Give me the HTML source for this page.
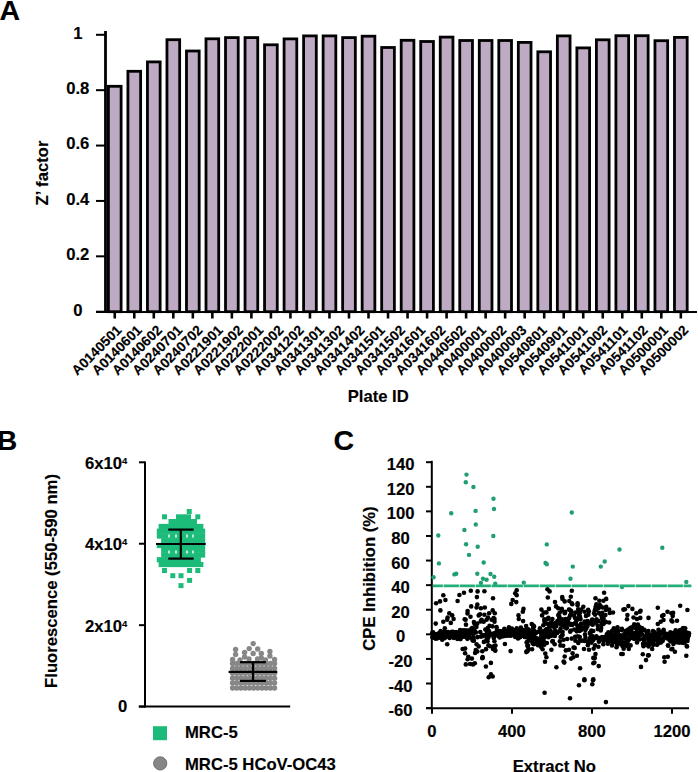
<!DOCTYPE html>
<html><head><meta charset="utf-8"><style>
html,body{margin:0;padding:0;background:#fff;width:698px;height:772px;overflow:hidden}
svg{display:block}
text{font-family:"Liberation Sans",sans-serif;font-weight:bold;stroke:#000;stroke-width:0.15px}
</style></head><body>
<svg width="698" height="772" viewBox="0 0 698 772">
<text x="-0.5" y="19.8" font-size="28.5" font-family="Liberation Sans, sans-serif" font-weight="bold">A</text>
<line x1="105.5" y1="31" x2="105.5" y2="312.9" stroke="#000" stroke-width="2.8"/>
<line x1="96" y1="311.70" x2="105.5" y2="311.70" stroke="#000" stroke-width="2"/>
<text x="77.8" y="315.60" font-size="16.67" text-anchor="middle" font-family="Liberation Sans, sans-serif" font-weight="bold">0</text>
<line x1="96" y1="256.32" x2="105.5" y2="256.32" stroke="#000" stroke-width="2"/>
<text x="77.8" y="260.22" font-size="16.67" text-anchor="middle" font-family="Liberation Sans, sans-serif" font-weight="bold">0.2</text>
<line x1="96" y1="200.94" x2="105.5" y2="200.94" stroke="#000" stroke-width="2"/>
<text x="77.8" y="204.84" font-size="16.67" text-anchor="middle" font-family="Liberation Sans, sans-serif" font-weight="bold">0.4</text>
<line x1="96" y1="145.56" x2="105.5" y2="145.56" stroke="#000" stroke-width="2"/>
<text x="77.8" y="149.46" font-size="16.67" text-anchor="middle" font-family="Liberation Sans, sans-serif" font-weight="bold">0.6</text>
<line x1="96" y1="90.18" x2="105.5" y2="90.18" stroke="#000" stroke-width="2"/>
<text x="77.8" y="94.08" font-size="16.67" text-anchor="middle" font-family="Liberation Sans, sans-serif" font-weight="bold">0.8</text>
<line x1="96" y1="34.80" x2="105.5" y2="34.80" stroke="#000" stroke-width="2"/>
<text x="77.8" y="38.70" font-size="16.67" text-anchor="middle" font-family="Liberation Sans, sans-serif" font-weight="bold">1</text>
<rect x="108.40" y="86.30" width="12.70" height="225.40" fill="#bfaac3" stroke="#000" stroke-width="2.8"/>
<rect x="127.92" y="71.30" width="12.70" height="240.40" fill="#bfaac3" stroke="#000" stroke-width="2.8"/>
<rect x="147.44" y="61.90" width="12.70" height="249.80" fill="#bfaac3" stroke="#000" stroke-width="2.8"/>
<rect x="166.96" y="39.70" width="12.70" height="272.00" fill="#bfaac3" stroke="#000" stroke-width="2.8"/>
<rect x="186.48" y="51.00" width="12.70" height="260.70" fill="#bfaac3" stroke="#000" stroke-width="2.8"/>
<rect x="206.00" y="38.80" width="12.70" height="272.90" fill="#bfaac3" stroke="#000" stroke-width="2.8"/>
<rect x="225.52" y="37.60" width="12.70" height="274.10" fill="#bfaac3" stroke="#000" stroke-width="2.8"/>
<rect x="245.04" y="37.60" width="12.70" height="274.10" fill="#bfaac3" stroke="#000" stroke-width="2.8"/>
<rect x="264.56" y="44.80" width="12.70" height="266.90" fill="#bfaac3" stroke="#000" stroke-width="2.8"/>
<rect x="284.08" y="38.90" width="12.70" height="272.80" fill="#bfaac3" stroke="#000" stroke-width="2.8"/>
<rect x="303.60" y="35.90" width="12.70" height="275.80" fill="#bfaac3" stroke="#000" stroke-width="2.8"/>
<rect x="323.12" y="35.90" width="12.70" height="275.80" fill="#bfaac3" stroke="#000" stroke-width="2.8"/>
<rect x="342.64" y="37.60" width="12.70" height="274.10" fill="#bfaac3" stroke="#000" stroke-width="2.8"/>
<rect x="362.16" y="36.20" width="12.70" height="275.50" fill="#bfaac3" stroke="#000" stroke-width="2.8"/>
<rect x="381.68" y="47.50" width="12.70" height="264.20" fill="#bfaac3" stroke="#000" stroke-width="2.8"/>
<rect x="401.20" y="40.30" width="12.70" height="271.40" fill="#bfaac3" stroke="#000" stroke-width="2.8"/>
<rect x="420.72" y="41.50" width="12.70" height="270.20" fill="#bfaac3" stroke="#000" stroke-width="2.8"/>
<rect x="440.24" y="37.10" width="12.70" height="274.60" fill="#bfaac3" stroke="#000" stroke-width="2.8"/>
<rect x="459.76" y="40.50" width="12.70" height="271.20" fill="#bfaac3" stroke="#000" stroke-width="2.8"/>
<rect x="479.28" y="40.50" width="12.70" height="271.20" fill="#bfaac3" stroke="#000" stroke-width="2.8"/>
<rect x="498.80" y="40.50" width="12.70" height="271.20" fill="#bfaac3" stroke="#000" stroke-width="2.8"/>
<rect x="518.32" y="42.40" width="12.70" height="269.30" fill="#bfaac3" stroke="#000" stroke-width="2.8"/>
<rect x="537.84" y="51.80" width="12.70" height="259.90" fill="#bfaac3" stroke="#000" stroke-width="2.8"/>
<rect x="557.36" y="35.90" width="12.70" height="275.80" fill="#bfaac3" stroke="#000" stroke-width="2.8"/>
<rect x="576.88" y="47.90" width="12.70" height="263.80" fill="#bfaac3" stroke="#000" stroke-width="2.8"/>
<rect x="596.40" y="39.80" width="12.70" height="271.90" fill="#bfaac3" stroke="#000" stroke-width="2.8"/>
<rect x="615.92" y="35.70" width="12.70" height="276.00" fill="#bfaac3" stroke="#000" stroke-width="2.8"/>
<rect x="635.44" y="35.70" width="12.70" height="276.00" fill="#bfaac3" stroke="#000" stroke-width="2.8"/>
<rect x="654.96" y="40.70" width="12.70" height="271.00" fill="#bfaac3" stroke="#000" stroke-width="2.8"/>
<rect x="674.48" y="37.40" width="12.70" height="274.30" fill="#bfaac3" stroke="#000" stroke-width="2.8"/>
<line x1="96" y1="311.9" x2="697" y2="311.9" stroke="#000" stroke-width="2"/>
<line x1="114.75" y1="311.7" x2="114.75" y2="318.5" stroke="#000" stroke-width="2.6"/>
<line x1="134.27" y1="311.7" x2="134.27" y2="318.5" stroke="#000" stroke-width="2.6"/>
<line x1="153.79" y1="311.7" x2="153.79" y2="318.5" stroke="#000" stroke-width="2.6"/>
<line x1="173.31" y1="311.7" x2="173.31" y2="318.5" stroke="#000" stroke-width="2.6"/>
<line x1="192.83" y1="311.7" x2="192.83" y2="318.5" stroke="#000" stroke-width="2.6"/>
<line x1="212.35" y1="311.7" x2="212.35" y2="318.5" stroke="#000" stroke-width="2.6"/>
<line x1="231.87" y1="311.7" x2="231.87" y2="318.5" stroke="#000" stroke-width="2.6"/>
<line x1="251.39" y1="311.7" x2="251.39" y2="318.5" stroke="#000" stroke-width="2.6"/>
<line x1="270.91" y1="311.7" x2="270.91" y2="318.5" stroke="#000" stroke-width="2.6"/>
<line x1="290.43" y1="311.7" x2="290.43" y2="318.5" stroke="#000" stroke-width="2.6"/>
<line x1="309.95" y1="311.7" x2="309.95" y2="318.5" stroke="#000" stroke-width="2.6"/>
<line x1="329.47" y1="311.7" x2="329.47" y2="318.5" stroke="#000" stroke-width="2.6"/>
<line x1="348.99" y1="311.7" x2="348.99" y2="318.5" stroke="#000" stroke-width="2.6"/>
<line x1="368.51" y1="311.7" x2="368.51" y2="318.5" stroke="#000" stroke-width="2.6"/>
<line x1="388.03" y1="311.7" x2="388.03" y2="318.5" stroke="#000" stroke-width="2.6"/>
<line x1="407.55" y1="311.7" x2="407.55" y2="318.5" stroke="#000" stroke-width="2.6"/>
<line x1="427.07" y1="311.7" x2="427.07" y2="318.5" stroke="#000" stroke-width="2.6"/>
<line x1="446.59" y1="311.7" x2="446.59" y2="318.5" stroke="#000" stroke-width="2.6"/>
<line x1="466.11" y1="311.7" x2="466.11" y2="318.5" stroke="#000" stroke-width="2.6"/>
<line x1="485.63" y1="311.7" x2="485.63" y2="318.5" stroke="#000" stroke-width="2.6"/>
<line x1="505.15" y1="311.7" x2="505.15" y2="318.5" stroke="#000" stroke-width="2.6"/>
<line x1="524.67" y1="311.7" x2="524.67" y2="318.5" stroke="#000" stroke-width="2.6"/>
<line x1="544.19" y1="311.7" x2="544.19" y2="318.5" stroke="#000" stroke-width="2.6"/>
<line x1="563.71" y1="311.7" x2="563.71" y2="318.5" stroke="#000" stroke-width="2.6"/>
<line x1="583.23" y1="311.7" x2="583.23" y2="318.5" stroke="#000" stroke-width="2.6"/>
<line x1="602.75" y1="311.7" x2="602.75" y2="318.5" stroke="#000" stroke-width="2.6"/>
<line x1="622.27" y1="311.7" x2="622.27" y2="318.5" stroke="#000" stroke-width="2.6"/>
<line x1="641.79" y1="311.7" x2="641.79" y2="318.5" stroke="#000" stroke-width="2.6"/>
<line x1="661.31" y1="311.7" x2="661.31" y2="318.5" stroke="#000" stroke-width="2.6"/>
<line x1="680.83" y1="311.7" x2="680.83" y2="318.5" stroke="#000" stroke-width="2.6"/>
<text x="122.40" y="331.00" font-size="13.8" text-anchor="end" transform="rotate(-45 122.40 331.00)" font-family="Liberation Sans, sans-serif" font-weight="bold">A0140501</text>
<text x="142.65" y="331.00" font-size="13.8" text-anchor="end" transform="rotate(-45 142.65 331.00)" font-family="Liberation Sans, sans-serif" font-weight="bold">A0140601</text>
<text x="162.89" y="331.00" font-size="13.8" text-anchor="end" transform="rotate(-45 162.89 331.00)" font-family="Liberation Sans, sans-serif" font-weight="bold">A0140602</text>
<text x="183.14" y="331.00" font-size="13.8" text-anchor="end" transform="rotate(-45 183.14 331.00)" font-family="Liberation Sans, sans-serif" font-weight="bold">A0240701</text>
<text x="203.39" y="331.00" font-size="13.8" text-anchor="end" transform="rotate(-45 203.39 331.00)" font-family="Liberation Sans, sans-serif" font-weight="bold">A0240702</text>
<text x="223.63" y="331.00" font-size="13.8" text-anchor="end" transform="rotate(-45 223.63 331.00)" font-family="Liberation Sans, sans-serif" font-weight="bold">A0221901</text>
<text x="243.88" y="331.00" font-size="13.8" text-anchor="end" transform="rotate(-45 243.88 331.00)" font-family="Liberation Sans, sans-serif" font-weight="bold">A0221902</text>
<text x="264.12" y="331.00" font-size="13.8" text-anchor="end" transform="rotate(-45 264.12 331.00)" font-family="Liberation Sans, sans-serif" font-weight="bold">A0222001</text>
<text x="284.37" y="331.00" font-size="13.8" text-anchor="end" transform="rotate(-45 284.37 331.00)" font-family="Liberation Sans, sans-serif" font-weight="bold">A0222002</text>
<text x="304.62" y="331.00" font-size="13.8" text-anchor="end" transform="rotate(-45 304.62 331.00)" font-family="Liberation Sans, sans-serif" font-weight="bold">A0341202</text>
<text x="324.86" y="331.00" font-size="13.8" text-anchor="end" transform="rotate(-45 324.86 331.00)" font-family="Liberation Sans, sans-serif" font-weight="bold">A0341301</text>
<text x="345.11" y="331.00" font-size="13.8" text-anchor="end" transform="rotate(-45 345.11 331.00)" font-family="Liberation Sans, sans-serif" font-weight="bold">A0341302</text>
<text x="365.36" y="331.00" font-size="13.8" text-anchor="end" transform="rotate(-45 365.36 331.00)" font-family="Liberation Sans, sans-serif" font-weight="bold">A0341402</text>
<text x="385.60" y="331.00" font-size="13.8" text-anchor="end" transform="rotate(-45 385.60 331.00)" font-family="Liberation Sans, sans-serif" font-weight="bold">A0341501</text>
<text x="405.85" y="331.00" font-size="13.8" text-anchor="end" transform="rotate(-45 405.85 331.00)" font-family="Liberation Sans, sans-serif" font-weight="bold">A0341502</text>
<text x="426.10" y="331.00" font-size="13.8" text-anchor="end" transform="rotate(-45 426.10 331.00)" font-family="Liberation Sans, sans-serif" font-weight="bold">A0341601</text>
<text x="446.34" y="331.00" font-size="13.8" text-anchor="end" transform="rotate(-45 446.34 331.00)" font-family="Liberation Sans, sans-serif" font-weight="bold">A0341602</text>
<text x="466.59" y="331.00" font-size="13.8" text-anchor="end" transform="rotate(-45 466.59 331.00)" font-family="Liberation Sans, sans-serif" font-weight="bold">A0440502</text>
<text x="486.84" y="331.00" font-size="13.8" text-anchor="end" transform="rotate(-45 486.84 331.00)" font-family="Liberation Sans, sans-serif" font-weight="bold">A0400001</text>
<text x="507.08" y="331.00" font-size="13.8" text-anchor="end" transform="rotate(-45 507.08 331.00)" font-family="Liberation Sans, sans-serif" font-weight="bold">A0400002</text>
<text x="527.33" y="331.00" font-size="13.8" text-anchor="end" transform="rotate(-45 527.33 331.00)" font-family="Liberation Sans, sans-serif" font-weight="bold">A0400003</text>
<text x="547.58" y="331.00" font-size="13.8" text-anchor="end" transform="rotate(-45 547.58 331.00)" font-family="Liberation Sans, sans-serif" font-weight="bold">A0540801</text>
<text x="567.82" y="331.00" font-size="13.8" text-anchor="end" transform="rotate(-45 567.82 331.00)" font-family="Liberation Sans, sans-serif" font-weight="bold">A0540901</text>
<text x="588.07" y="331.00" font-size="13.8" text-anchor="end" transform="rotate(-45 588.07 331.00)" font-family="Liberation Sans, sans-serif" font-weight="bold">A0541001</text>
<text x="608.31" y="331.00" font-size="13.8" text-anchor="end" transform="rotate(-45 608.31 331.00)" font-family="Liberation Sans, sans-serif" font-weight="bold">A0541002</text>
<text x="628.56" y="331.00" font-size="13.8" text-anchor="end" transform="rotate(-45 628.56 331.00)" font-family="Liberation Sans, sans-serif" font-weight="bold">A0541101</text>
<text x="648.81" y="331.00" font-size="13.8" text-anchor="end" transform="rotate(-45 648.81 331.00)" font-family="Liberation Sans, sans-serif" font-weight="bold">A0541102</text>
<text x="669.05" y="331.00" font-size="13.8" text-anchor="end" transform="rotate(-45 669.05 331.00)" font-family="Liberation Sans, sans-serif" font-weight="bold">A0500001</text>
<text x="689.30" y="331.00" font-size="13.8" text-anchor="end" transform="rotate(-45 689.30 331.00)" font-family="Liberation Sans, sans-serif" font-weight="bold">A0500002</text>
<text x="47.6" y="173" font-size="16.67" text-anchor="middle" transform="rotate(-90 47.6 173)" font-family="Liberation Sans, sans-serif" font-weight="bold">Z’ factor</text>
<text x="378.2" y="402" font-size="16.67" text-anchor="middle" font-family="Liberation Sans, sans-serif" font-weight="bold">Plate ID</text>
<text x="-3" y="449.5" font-size="28" font-family="Liberation Sans, sans-serif" font-weight="bold">B</text>
<line x1="145.0" y1="461.5" x2="145.0" y2="707.6" stroke="#000" stroke-width="2"/>
<line x1="139" y1="706.60" x2="145.0" y2="706.60" stroke="#000" stroke-width="2"/>
<text x="127.3" y="712.10" font-size="16.67" text-anchor="end" font-family="Liberation Sans, sans-serif" font-weight="bold">0</text>
<line x1="139" y1="625.17" x2="145.0" y2="625.17" stroke="#000" stroke-width="2"/>
<text x="127.3" y="631.67" font-size="16.67" text-anchor="end" font-family="Liberation Sans, sans-serif" font-weight="bold">2x10<tspan font-size="9.5" dy="-5">4</tspan></text>
<line x1="139" y1="543.73" x2="145.0" y2="543.73" stroke="#000" stroke-width="2"/>
<text x="127.3" y="550.23" font-size="16.67" text-anchor="end" font-family="Liberation Sans, sans-serif" font-weight="bold">4x10<tspan font-size="9.5" dy="-5">4</tspan></text>
<line x1="139" y1="462.30" x2="145.0" y2="462.30" stroke="#000" stroke-width="2"/>
<text x="127.3" y="468.80" font-size="16.67" text-anchor="end" font-family="Liberation Sans, sans-serif" font-weight="bold">6x10<tspan font-size="9.5" dy="-5">4</tspan></text>
<line x1="138.7" y1="706.6" x2="290.2" y2="706.6" stroke="#000" stroke-width="2"/>
<text x="57" y="581" font-size="16.67" text-anchor="middle" transform="rotate(-90 57 581)" font-family="Liberation Sans, sans-serif" font-weight="bold">Fluorescence (550-590 nm)</text>
<rect x="186.70" y="509.00" width="5" height="5" fill="#1dbb7a"/>
<rect x="162.00" y="514.30" width="5" height="5" fill="#1dbb7a"/>
<rect x="176.00" y="514.30" width="5" height="5" fill="#1dbb7a"/>
<rect x="181.00" y="514.30" width="5" height="5" fill="#1dbb7a"/>
<rect x="186.00" y="514.30" width="5" height="5" fill="#1dbb7a"/>
<rect x="195.30" y="514.30" width="5" height="5" fill="#1dbb7a"/>
<rect x="168.50" y="519.00" width="5" height="5" fill="#1dbb7a"/>
<rect x="173.00" y="519.00" width="5" height="5" fill="#1dbb7a"/>
<rect x="178.00" y="519.00" width="5" height="5" fill="#1dbb7a"/>
<rect x="183.00" y="519.00" width="5" height="5" fill="#1dbb7a"/>
<rect x="188.00" y="519.00" width="5" height="5" fill="#1dbb7a"/>
<rect x="192.00" y="519.00" width="5" height="5" fill="#1dbb7a"/>
<rect x="158.60" y="523.90" width="5.2" height="5.2" fill="#1dbb7a"/>
<rect x="162.56" y="523.90" width="5.2" height="5.2" fill="#1dbb7a"/>
<rect x="166.52" y="523.90" width="5.2" height="5.2" fill="#1dbb7a"/>
<rect x="170.48" y="523.90" width="5.2" height="5.2" fill="#1dbb7a"/>
<rect x="174.44" y="523.90" width="5.2" height="5.2" fill="#1dbb7a"/>
<rect x="178.40" y="523.90" width="5.2" height="5.2" fill="#1dbb7a"/>
<rect x="182.36" y="523.90" width="5.2" height="5.2" fill="#1dbb7a"/>
<rect x="186.32" y="523.90" width="5.2" height="5.2" fill="#1dbb7a"/>
<rect x="190.28" y="523.90" width="5.2" height="5.2" fill="#1dbb7a"/>
<rect x="194.24" y="523.90" width="5.2" height="5.2" fill="#1dbb7a"/>
<rect x="198.20" y="523.90" width="5.2" height="5.2" fill="#1dbb7a"/>
<rect x="156.80" y="528.65" width="5.2" height="5.2" fill="#1dbb7a"/>
<rect x="161.12" y="528.65" width="5.2" height="5.2" fill="#1dbb7a"/>
<rect x="165.44" y="528.65" width="5.2" height="5.2" fill="#1dbb7a"/>
<rect x="169.76" y="528.65" width="5.2" height="5.2" fill="#1dbb7a"/>
<rect x="174.08" y="528.65" width="5.2" height="5.2" fill="#1dbb7a"/>
<rect x="178.40" y="528.65" width="5.2" height="5.2" fill="#1dbb7a"/>
<rect x="182.72" y="528.65" width="5.2" height="5.2" fill="#1dbb7a"/>
<rect x="187.04" y="528.65" width="5.2" height="5.2" fill="#1dbb7a"/>
<rect x="191.36" y="528.65" width="5.2" height="5.2" fill="#1dbb7a"/>
<rect x="195.68" y="528.65" width="5.2" height="5.2" fill="#1dbb7a"/>
<rect x="200.00" y="528.65" width="5.2" height="5.2" fill="#1dbb7a"/>
<rect x="156.80" y="533.40" width="5.2" height="5.2" fill="#1dbb7a"/>
<rect x="161.12" y="533.40" width="5.2" height="5.2" fill="#1dbb7a"/>
<rect x="165.44" y="533.40" width="5.2" height="5.2" fill="#1dbb7a"/>
<rect x="169.76" y="533.40" width="5.2" height="5.2" fill="#1dbb7a"/>
<rect x="174.08" y="533.40" width="5.2" height="5.2" fill="#1dbb7a"/>
<rect x="178.40" y="533.40" width="5.2" height="5.2" fill="#1dbb7a"/>
<rect x="182.72" y="533.40" width="5.2" height="5.2" fill="#1dbb7a"/>
<rect x="187.04" y="533.40" width="5.2" height="5.2" fill="#1dbb7a"/>
<rect x="191.36" y="533.40" width="5.2" height="5.2" fill="#1dbb7a"/>
<rect x="195.68" y="533.40" width="5.2" height="5.2" fill="#1dbb7a"/>
<rect x="200.00" y="533.40" width="5.2" height="5.2" fill="#1dbb7a"/>
<rect x="161.12" y="538.15" width="5.2" height="5.2" fill="#1dbb7a"/>
<rect x="165.44" y="538.15" width="5.2" height="5.2" fill="#1dbb7a"/>
<rect x="169.76" y="538.15" width="5.2" height="5.2" fill="#1dbb7a"/>
<rect x="174.08" y="538.15" width="5.2" height="5.2" fill="#1dbb7a"/>
<rect x="178.40" y="538.15" width="5.2" height="5.2" fill="#1dbb7a"/>
<rect x="182.72" y="538.15" width="5.2" height="5.2" fill="#1dbb7a"/>
<rect x="187.04" y="538.15" width="5.2" height="5.2" fill="#1dbb7a"/>
<rect x="191.36" y="538.15" width="5.2" height="5.2" fill="#1dbb7a"/>
<rect x="195.68" y="538.15" width="5.2" height="5.2" fill="#1dbb7a"/>
<rect x="200.00" y="538.15" width="5.2" height="5.2" fill="#1dbb7a"/>
<rect x="156.80" y="542.90" width="5.2" height="5.2" fill="#1dbb7a"/>
<rect x="161.12" y="542.90" width="5.2" height="5.2" fill="#1dbb7a"/>
<rect x="165.44" y="542.90" width="5.2" height="5.2" fill="#1dbb7a"/>
<rect x="169.76" y="542.90" width="5.2" height="5.2" fill="#1dbb7a"/>
<rect x="174.08" y="542.90" width="5.2" height="5.2" fill="#1dbb7a"/>
<rect x="178.40" y="542.90" width="5.2" height="5.2" fill="#1dbb7a"/>
<rect x="182.72" y="542.90" width="5.2" height="5.2" fill="#1dbb7a"/>
<rect x="187.04" y="542.90" width="5.2" height="5.2" fill="#1dbb7a"/>
<rect x="191.36" y="542.90" width="5.2" height="5.2" fill="#1dbb7a"/>
<rect x="195.68" y="542.90" width="5.2" height="5.2" fill="#1dbb7a"/>
<rect x="200.00" y="542.90" width="5.2" height="5.2" fill="#1dbb7a"/>
<rect x="161.12" y="547.65" width="5.2" height="5.2" fill="#1dbb7a"/>
<rect x="165.44" y="547.65" width="5.2" height="5.2" fill="#1dbb7a"/>
<rect x="169.76" y="547.65" width="5.2" height="5.2" fill="#1dbb7a"/>
<rect x="174.08" y="547.65" width="5.2" height="5.2" fill="#1dbb7a"/>
<rect x="178.40" y="547.65" width="5.2" height="5.2" fill="#1dbb7a"/>
<rect x="182.72" y="547.65" width="5.2" height="5.2" fill="#1dbb7a"/>
<rect x="187.04" y="547.65" width="5.2" height="5.2" fill="#1dbb7a"/>
<rect x="191.36" y="547.65" width="5.2" height="5.2" fill="#1dbb7a"/>
<rect x="195.68" y="547.65" width="5.2" height="5.2" fill="#1dbb7a"/>
<rect x="200.00" y="547.65" width="5.2" height="5.2" fill="#1dbb7a"/>
<rect x="161.12" y="552.40" width="5.2" height="5.2" fill="#1dbb7a"/>
<rect x="165.44" y="552.40" width="5.2" height="5.2" fill="#1dbb7a"/>
<rect x="169.76" y="552.40" width="5.2" height="5.2" fill="#1dbb7a"/>
<rect x="174.08" y="552.40" width="5.2" height="5.2" fill="#1dbb7a"/>
<rect x="178.40" y="552.40" width="5.2" height="5.2" fill="#1dbb7a"/>
<rect x="182.72" y="552.40" width="5.2" height="5.2" fill="#1dbb7a"/>
<rect x="187.04" y="552.40" width="5.2" height="5.2" fill="#1dbb7a"/>
<rect x="191.36" y="552.40" width="5.2" height="5.2" fill="#1dbb7a"/>
<rect x="195.68" y="552.40" width="5.2" height="5.2" fill="#1dbb7a"/>
<rect x="200.00" y="552.40" width="5.2" height="5.2" fill="#1dbb7a"/>
<rect x="156.80" y="557.15" width="5.2" height="5.2" fill="#1dbb7a"/>
<rect x="161.12" y="557.15" width="5.2" height="5.2" fill="#1dbb7a"/>
<rect x="165.44" y="557.15" width="5.2" height="5.2" fill="#1dbb7a"/>
<rect x="169.76" y="557.15" width="5.2" height="5.2" fill="#1dbb7a"/>
<rect x="174.08" y="557.15" width="5.2" height="5.2" fill="#1dbb7a"/>
<rect x="178.40" y="557.15" width="5.2" height="5.2" fill="#1dbb7a"/>
<rect x="182.72" y="557.15" width="5.2" height="5.2" fill="#1dbb7a"/>
<rect x="187.04" y="557.15" width="5.2" height="5.2" fill="#1dbb7a"/>
<rect x="191.36" y="557.15" width="5.2" height="5.2" fill="#1dbb7a"/>
<rect x="195.68" y="557.15" width="5.2" height="5.2" fill="#1dbb7a"/>
<rect x="158.60" y="561.90" width="5.2" height="5.2" fill="#1dbb7a"/>
<rect x="162.56" y="561.90" width="5.2" height="5.2" fill="#1dbb7a"/>
<rect x="166.52" y="561.90" width="5.2" height="5.2" fill="#1dbb7a"/>
<rect x="170.48" y="561.90" width="5.2" height="5.2" fill="#1dbb7a"/>
<rect x="174.44" y="561.90" width="5.2" height="5.2" fill="#1dbb7a"/>
<rect x="178.40" y="561.90" width="5.2" height="5.2" fill="#1dbb7a"/>
<rect x="182.36" y="561.90" width="5.2" height="5.2" fill="#1dbb7a"/>
<rect x="186.32" y="561.90" width="5.2" height="5.2" fill="#1dbb7a"/>
<rect x="190.28" y="561.90" width="5.2" height="5.2" fill="#1dbb7a"/>
<rect x="194.24" y="561.90" width="5.2" height="5.2" fill="#1dbb7a"/>
<rect x="198.20" y="561.90" width="5.2" height="5.2" fill="#1dbb7a"/>
<rect x="162.00" y="568.00" width="5" height="5" fill="#1dbb7a"/>
<rect x="187.10" y="568.00" width="5" height="5" fill="#1dbb7a"/>
<rect x="195.30" y="568.00" width="5" height="5" fill="#1dbb7a"/>
<rect x="170.30" y="573.20" width="5" height="5" fill="#1dbb7a"/>
<rect x="178.50" y="573.20" width="5" height="5" fill="#1dbb7a"/>
<rect x="187.10" y="577.90" width="5" height="5" fill="#1dbb7a"/>
<rect x="178.50" y="583.10" width="5" height="5" fill="#1dbb7a"/>
<rect x="168.2" y="534.5" width="1.6" height="3" fill="#e8f8f0"/>
<rect x="175.2" y="534.5" width="1.6" height="3" fill="#e8f8f0"/>
<rect x="186.2" y="534.5" width="1.6" height="3" fill="#e8f8f0"/>
<rect x="192.2" y="534.5" width="1.6" height="3" fill="#e8f8f0"/>
<rect x="168.2" y="550.5" width="1.6" height="3" fill="#e8f8f0"/>
<rect x="175.2" y="550.5" width="1.6" height="3" fill="#e8f8f0"/>
<rect x="186.2" y="550.5" width="1.6" height="3" fill="#e8f8f0"/>
<rect x="192.2" y="550.5" width="1.6" height="3" fill="#e8f8f0"/>
<circle cx="253.20" cy="643.60" r="2.7" fill="#878787"/>
<circle cx="249.20" cy="648.60" r="2.7" fill="#878787"/>
<circle cx="257.70" cy="649.00" r="2.7" fill="#878787"/>
<circle cx="235.60" cy="649.50" r="2.7" fill="#878787"/>
<circle cx="235.60" cy="654.50" r="2.7" fill="#878787"/>
<circle cx="244.60" cy="652.50" r="2.7" fill="#878787"/>
<circle cx="244.60" cy="657.00" r="2.7" fill="#878787"/>
<circle cx="253.20" cy="653.50" r="2.7" fill="#878787"/>
<circle cx="261.30" cy="653.50" r="2.7" fill="#878787"/>
<circle cx="261.30" cy="658.00" r="2.7" fill="#878787"/>
<circle cx="269.90" cy="651.50" r="2.7" fill="#878787"/>
<circle cx="269.90" cy="656.00" r="2.7" fill="#878787"/>
<circle cx="232.60" cy="659.50" r="2.7" fill="#878787"/>
<circle cx="274.50" cy="659.50" r="2.7" fill="#878787"/>
<circle cx="240.00" cy="660.00" r="2.7" fill="#878787"/>
<circle cx="249.00" cy="659.00" r="2.7" fill="#878787"/>
<circle cx="257.50" cy="659.00" r="2.7" fill="#878787"/>
<circle cx="265.50" cy="660.00" r="2.7" fill="#878787"/>
<circle cx="232.60" cy="663.50" r="2.75" fill="#878787"/>
<circle cx="236.79" cy="663.50" r="2.75" fill="#878787"/>
<circle cx="240.98" cy="663.50" r="2.75" fill="#878787"/>
<circle cx="245.17" cy="663.50" r="2.75" fill="#878787"/>
<circle cx="249.36" cy="663.50" r="2.75" fill="#878787"/>
<circle cx="253.55" cy="663.50" r="2.75" fill="#878787"/>
<circle cx="257.74" cy="663.50" r="2.75" fill="#878787"/>
<circle cx="261.93" cy="663.50" r="2.75" fill="#878787"/>
<circle cx="266.12" cy="663.50" r="2.75" fill="#878787"/>
<circle cx="270.31" cy="663.50" r="2.75" fill="#878787"/>
<circle cx="274.50" cy="663.50" r="2.75" fill="#878787"/>
<circle cx="232.60" cy="668.40" r="2.75" fill="#878787"/>
<circle cx="236.79" cy="668.40" r="2.75" fill="#878787"/>
<circle cx="240.98" cy="668.40" r="2.75" fill="#878787"/>
<circle cx="245.17" cy="668.40" r="2.75" fill="#878787"/>
<circle cx="249.36" cy="668.40" r="2.75" fill="#878787"/>
<circle cx="253.55" cy="668.40" r="2.75" fill="#878787"/>
<circle cx="257.74" cy="668.40" r="2.75" fill="#878787"/>
<circle cx="261.93" cy="668.40" r="2.75" fill="#878787"/>
<circle cx="266.12" cy="668.40" r="2.75" fill="#878787"/>
<circle cx="270.31" cy="668.40" r="2.75" fill="#878787"/>
<circle cx="274.50" cy="668.40" r="2.75" fill="#878787"/>
<circle cx="232.60" cy="673.30" r="2.75" fill="#878787"/>
<circle cx="236.79" cy="673.30" r="2.75" fill="#878787"/>
<circle cx="240.98" cy="673.30" r="2.75" fill="#878787"/>
<circle cx="245.17" cy="673.30" r="2.75" fill="#878787"/>
<circle cx="249.36" cy="673.30" r="2.75" fill="#878787"/>
<circle cx="253.55" cy="673.30" r="2.75" fill="#878787"/>
<circle cx="257.74" cy="673.30" r="2.75" fill="#878787"/>
<circle cx="261.93" cy="673.30" r="2.75" fill="#878787"/>
<circle cx="266.12" cy="673.30" r="2.75" fill="#878787"/>
<circle cx="270.31" cy="673.30" r="2.75" fill="#878787"/>
<circle cx="274.50" cy="673.30" r="2.75" fill="#878787"/>
<circle cx="232.60" cy="678.20" r="2.75" fill="#878787"/>
<circle cx="236.79" cy="678.20" r="2.75" fill="#878787"/>
<circle cx="240.98" cy="678.20" r="2.75" fill="#878787"/>
<circle cx="245.17" cy="678.20" r="2.75" fill="#878787"/>
<circle cx="249.36" cy="678.20" r="2.75" fill="#878787"/>
<circle cx="253.55" cy="678.20" r="2.75" fill="#878787"/>
<circle cx="257.74" cy="678.20" r="2.75" fill="#878787"/>
<circle cx="261.93" cy="678.20" r="2.75" fill="#878787"/>
<circle cx="266.12" cy="678.20" r="2.75" fill="#878787"/>
<circle cx="270.31" cy="678.20" r="2.75" fill="#878787"/>
<circle cx="274.50" cy="678.20" r="2.75" fill="#878787"/>
<circle cx="232.60" cy="683.10" r="2.75" fill="#878787"/>
<circle cx="236.79" cy="683.10" r="2.75" fill="#878787"/>
<circle cx="240.98" cy="683.10" r="2.75" fill="#878787"/>
<circle cx="245.17" cy="683.10" r="2.75" fill="#878787"/>
<circle cx="249.36" cy="683.10" r="2.75" fill="#878787"/>
<circle cx="253.55" cy="683.10" r="2.75" fill="#878787"/>
<circle cx="257.74" cy="683.10" r="2.75" fill="#878787"/>
<circle cx="261.93" cy="683.10" r="2.75" fill="#878787"/>
<circle cx="266.12" cy="683.10" r="2.75" fill="#878787"/>
<circle cx="270.31" cy="683.10" r="2.75" fill="#878787"/>
<circle cx="274.50" cy="683.10" r="2.75" fill="#878787"/>
<circle cx="232.60" cy="688.00" r="2.75" fill="#878787"/>
<circle cx="236.79" cy="688.00" r="2.75" fill="#878787"/>
<circle cx="240.98" cy="688.00" r="2.75" fill="#878787"/>
<circle cx="245.17" cy="688.00" r="2.75" fill="#878787"/>
<circle cx="249.36" cy="688.00" r="2.75" fill="#878787"/>
<circle cx="253.55" cy="688.00" r="2.75" fill="#878787"/>
<circle cx="257.74" cy="688.00" r="2.75" fill="#878787"/>
<circle cx="261.93" cy="688.00" r="2.75" fill="#878787"/>
<circle cx="266.12" cy="688.00" r="2.75" fill="#878787"/>
<circle cx="270.31" cy="688.00" r="2.75" fill="#878787"/>
<circle cx="274.50" cy="688.00" r="2.75" fill="#878787"/>
<line x1="156" y1="544" x2="205.7" y2="544" stroke="#000" stroke-width="2.2"/>
<line x1="180.8" y1="529.6" x2="180.8" y2="558.6" stroke="#000" stroke-width="2.2"/>
<line x1="168.3" y1="529.6" x2="193.6" y2="529.6" stroke="#000" stroke-width="2.2"/>
<line x1="168.3" y1="558.6" x2="193.6" y2="558.6" stroke="#000" stroke-width="2.2"/>
<line x1="228.6" y1="671.8" x2="277.3" y2="671.8" stroke="#000" stroke-width="2.2"/>
<line x1="253" y1="662.2" x2="253" y2="680.9" stroke="#000" stroke-width="2.4"/>
<line x1="240" y1="662.2" x2="265.9" y2="662.2" stroke="#000" stroke-width="2.2"/>
<line x1="240" y1="680.9" x2="265.9" y2="680.9" stroke="#000" stroke-width="2.2"/>
<rect x="153" y="726.2" width="14" height="14" fill="#1dbb7a"/>
<text x="185" y="738.2" font-size="16.67" font-family="Liberation Sans, sans-serif" font-weight="bold">MRC-5</text>
<circle cx="160.2" cy="763.4" r="6.6" fill="#868686" stroke="#6f6f6f" stroke-width="1"/>
<text x="185" y="770.2" font-size="16.67" font-family="Liberation Sans, sans-serif" font-weight="bold">MRC-5 HCoV-OC43</text>
<text x="333.5" y="449.6" font-size="28.5" font-family="Liberation Sans, sans-serif" font-weight="bold">C</text>
<line x1="431.8" y1="460.8" x2="431.8" y2="709.3" stroke="#000" stroke-width="2"/>
<line x1="426" y1="708.10" x2="431.8" y2="708.10" stroke="#000" stroke-width="2"/>
<text x="400.6" y="716.20" font-size="16.67" text-anchor="middle" font-family="Liberation Sans, sans-serif" font-weight="bold">-60</text>
<line x1="426" y1="683.51" x2="431.8" y2="683.51" stroke="#000" stroke-width="2"/>
<text x="400.6" y="691.61" font-size="16.67" text-anchor="middle" font-family="Liberation Sans, sans-serif" font-weight="bold">-40</text>
<line x1="426" y1="658.92" x2="431.8" y2="658.92" stroke="#000" stroke-width="2"/>
<text x="400.6" y="667.02" font-size="16.67" text-anchor="middle" font-family="Liberation Sans, sans-serif" font-weight="bold">-20</text>
<line x1="426" y1="634.33" x2="431.8" y2="634.33" stroke="#000" stroke-width="2"/>
<text x="400.6" y="642.43" font-size="16.67" text-anchor="middle" font-family="Liberation Sans, sans-serif" font-weight="bold">0</text>
<line x1="426" y1="609.74" x2="431.8" y2="609.74" stroke="#000" stroke-width="2"/>
<text x="400.6" y="617.84" font-size="16.67" text-anchor="middle" font-family="Liberation Sans, sans-serif" font-weight="bold">20</text>
<line x1="426" y1="585.15" x2="431.8" y2="585.15" stroke="#000" stroke-width="2"/>
<text x="400.6" y="593.25" font-size="16.67" text-anchor="middle" font-family="Liberation Sans, sans-serif" font-weight="bold">40</text>
<line x1="426" y1="560.56" x2="431.8" y2="560.56" stroke="#000" stroke-width="2"/>
<text x="400.6" y="568.66" font-size="16.67" text-anchor="middle" font-family="Liberation Sans, sans-serif" font-weight="bold">60</text>
<line x1="426" y1="535.97" x2="431.8" y2="535.97" stroke="#000" stroke-width="2"/>
<text x="400.6" y="544.07" font-size="16.67" text-anchor="middle" font-family="Liberation Sans, sans-serif" font-weight="bold">80</text>
<line x1="426" y1="511.38" x2="431.8" y2="511.38" stroke="#000" stroke-width="2"/>
<text x="400.6" y="519.48" font-size="16.67" text-anchor="middle" font-family="Liberation Sans, sans-serif" font-weight="bold">100</text>
<line x1="426" y1="486.79" x2="431.8" y2="486.79" stroke="#000" stroke-width="2"/>
<text x="400.6" y="494.89" font-size="16.67" text-anchor="middle" font-family="Liberation Sans, sans-serif" font-weight="bold">120</text>
<line x1="426" y1="462.20" x2="431.8" y2="462.20" stroke="#000" stroke-width="2"/>
<text x="400.6" y="470.30" font-size="16.67" text-anchor="middle" font-family="Liberation Sans, sans-serif" font-weight="bold">140</text>
<line x1="426" y1="708.3" x2="689" y2="708.3" stroke="#000" stroke-width="2"/>
<line x1="432.00" y1="708.3" x2="432.00" y2="713.7" stroke="#000" stroke-width="2"/>
<text x="432.00" y="736.5" font-size="16.67" text-anchor="middle" font-family="Liberation Sans, sans-serif" font-weight="bold">0</text>
<line x1="512.00" y1="708.3" x2="512.00" y2="713.7" stroke="#000" stroke-width="2"/>
<text x="512.00" y="736.5" font-size="16.67" text-anchor="middle" font-family="Liberation Sans, sans-serif" font-weight="bold">400</text>
<line x1="592.00" y1="708.3" x2="592.00" y2="713.7" stroke="#000" stroke-width="2"/>
<text x="592.00" y="736.5" font-size="16.67" text-anchor="middle" font-family="Liberation Sans, sans-serif" font-weight="bold">800</text>
<line x1="672.00" y1="708.3" x2="672.00" y2="713.7" stroke="#000" stroke-width="2"/>
<text x="672.00" y="736.5" font-size="16.67" text-anchor="middle" font-family="Liberation Sans, sans-serif" font-weight="bold">1200</text>
<text x="375" y="578.5" font-size="16.67" text-anchor="middle" transform="rotate(-90 375 578.5)" font-family="Liberation Sans, sans-serif" font-weight="bold">CPE Inhibition (%)</text>
<text x="554.4" y="772" font-size="16.67" text-anchor="middle" font-family="Liberation Sans, sans-serif" font-weight="bold">Extract No</text>
<circle cx="449.86" cy="634.91" r="2.3" fill="#000"/>
<circle cx="465.72" cy="636.25" r="2.3" fill="#000"/>
<circle cx="447.58" cy="635.00" r="2.3" fill="#000"/>
<circle cx="441.32" cy="636.12" r="2.3" fill="#000"/>
<circle cx="462.88" cy="636.61" r="2.3" fill="#000"/>
<circle cx="459.65" cy="634.68" r="2.3" fill="#000"/>
<circle cx="468.60" cy="635.75" r="2.3" fill="#000"/>
<circle cx="451.74" cy="632.02" r="2.3" fill="#000"/>
<circle cx="459.79" cy="633.44" r="2.3" fill="#000"/>
<circle cx="460.60" cy="634.70" r="2.3" fill="#000"/>
<circle cx="449.80" cy="635.65" r="2.3" fill="#000"/>
<circle cx="437.64" cy="638.31" r="2.3" fill="#000"/>
<circle cx="440.08" cy="635.24" r="2.3" fill="#000"/>
<circle cx="445.28" cy="634.36" r="2.3" fill="#000"/>
<circle cx="447.83" cy="632.54" r="2.3" fill="#000"/>
<circle cx="460.99" cy="632.56" r="2.3" fill="#000"/>
<circle cx="446.83" cy="635.40" r="2.3" fill="#000"/>
<circle cx="448.22" cy="633.68" r="2.3" fill="#000"/>
<circle cx="444.03" cy="633.87" r="2.3" fill="#000"/>
<circle cx="440.71" cy="631.08" r="2.3" fill="#000"/>
<circle cx="433.54" cy="634.64" r="2.3" fill="#000"/>
<circle cx="464.89" cy="634.34" r="2.3" fill="#000"/>
<circle cx="464.07" cy="636.67" r="2.3" fill="#000"/>
<circle cx="462.57" cy="630.45" r="2.3" fill="#000"/>
<circle cx="448.00" cy="631.95" r="2.3" fill="#000"/>
<circle cx="455.05" cy="632.37" r="2.3" fill="#000"/>
<circle cx="440.76" cy="632.94" r="2.3" fill="#000"/>
<circle cx="439.72" cy="634.75" r="2.3" fill="#000"/>
<circle cx="450.75" cy="634.17" r="2.3" fill="#000"/>
<circle cx="446.72" cy="635.57" r="2.3" fill="#000"/>
<circle cx="444.82" cy="628.24" r="2.3" fill="#000"/>
<circle cx="449.67" cy="637.25" r="2.3" fill="#000"/>
<circle cx="438.45" cy="635.93" r="2.3" fill="#000"/>
<circle cx="444.61" cy="638.15" r="2.3" fill="#000"/>
<circle cx="439.86" cy="635.02" r="2.3" fill="#000"/>
<circle cx="464.06" cy="635.47" r="2.3" fill="#000"/>
<circle cx="432.16" cy="633.02" r="2.3" fill="#000"/>
<circle cx="445.31" cy="632.36" r="2.3" fill="#000"/>
<circle cx="435.09" cy="634.25" r="2.3" fill="#000"/>
<circle cx="449.52" cy="635.99" r="2.3" fill="#000"/>
<circle cx="442.02" cy="636.65" r="2.3" fill="#000"/>
<circle cx="468.94" cy="634.99" r="2.3" fill="#000"/>
<circle cx="439.64" cy="633.29" r="2.3" fill="#000"/>
<circle cx="437.16" cy="634.02" r="2.3" fill="#000"/>
<circle cx="457.14" cy="634.70" r="2.3" fill="#000"/>
<circle cx="440.31" cy="633.85" r="2.3" fill="#000"/>
<circle cx="439.43" cy="636.40" r="2.3" fill="#000"/>
<circle cx="440.48" cy="633.27" r="2.3" fill="#000"/>
<circle cx="445.48" cy="635.67" r="2.3" fill="#000"/>
<circle cx="454.00" cy="637.86" r="2.3" fill="#000"/>
<circle cx="467.42" cy="638.86" r="2.3" fill="#000"/>
<circle cx="459.38" cy="635.88" r="2.3" fill="#000"/>
<circle cx="456.07" cy="634.24" r="2.3" fill="#000"/>
<circle cx="436.77" cy="634.28" r="2.3" fill="#000"/>
<circle cx="463.52" cy="632.58" r="2.3" fill="#000"/>
<circle cx="435.34" cy="636.11" r="2.3" fill="#000"/>
<circle cx="451.16" cy="634.49" r="2.3" fill="#000"/>
<circle cx="459.81" cy="632.27" r="2.3" fill="#000"/>
<circle cx="438.16" cy="634.09" r="2.3" fill="#000"/>
<circle cx="467.86" cy="634.09" r="2.3" fill="#000"/>
<circle cx="453.34" cy="632.09" r="2.3" fill="#000"/>
<circle cx="454.62" cy="634.79" r="2.3" fill="#000"/>
<circle cx="453.28" cy="636.24" r="2.3" fill="#000"/>
<circle cx="436.67" cy="635.14" r="2.3" fill="#000"/>
<circle cx="433.10" cy="632.27" r="2.3" fill="#000"/>
<circle cx="455.75" cy="633.71" r="2.3" fill="#000"/>
<circle cx="455.55" cy="634.39" r="2.3" fill="#000"/>
<circle cx="439.22" cy="633.48" r="2.3" fill="#000"/>
<circle cx="439.07" cy="635.87" r="2.3" fill="#000"/>
<circle cx="456.10" cy="631.94" r="2.3" fill="#000"/>
<circle cx="463.72" cy="634.26" r="2.3" fill="#000"/>
<circle cx="454.28" cy="635.91" r="2.3" fill="#000"/>
<circle cx="449.05" cy="637.20" r="2.3" fill="#000"/>
<circle cx="465.53" cy="633.29" r="2.3" fill="#000"/>
<circle cx="438.09" cy="637.17" r="2.3" fill="#000"/>
<circle cx="445.55" cy="632.85" r="2.3" fill="#000"/>
<circle cx="458.09" cy="632.68" r="2.3" fill="#000"/>
<circle cx="461.37" cy="632.82" r="2.3" fill="#000"/>
<circle cx="460.58" cy="639.11" r="2.3" fill="#000"/>
<circle cx="440.14" cy="632.25" r="2.3" fill="#000"/>
<circle cx="449.66" cy="638.04" r="2.3" fill="#000"/>
<circle cx="448.40" cy="634.62" r="2.3" fill="#000"/>
<circle cx="432.40" cy="637.36" r="2.3" fill="#000"/>
<circle cx="467.65" cy="630.51" r="2.3" fill="#000"/>
<circle cx="441.72" cy="634.84" r="2.3" fill="#000"/>
<circle cx="468.83" cy="636.01" r="2.3" fill="#000"/>
<circle cx="463.41" cy="634.31" r="2.3" fill="#000"/>
<circle cx="465.55" cy="635.27" r="2.3" fill="#000"/>
<circle cx="438.65" cy="633.68" r="2.3" fill="#000"/>
<circle cx="466.82" cy="635.91" r="2.3" fill="#000"/>
<circle cx="450.81" cy="636.04" r="2.3" fill="#000"/>
<circle cx="448.49" cy="633.13" r="2.3" fill="#000"/>
<circle cx="450.69" cy="634.93" r="2.3" fill="#000"/>
<circle cx="436.62" cy="634.25" r="2.3" fill="#000"/>
<circle cx="445.81" cy="635.46" r="2.3" fill="#000"/>
<circle cx="458.79" cy="635.58" r="2.3" fill="#000"/>
<circle cx="434.07" cy="635.09" r="2.3" fill="#000"/>
<circle cx="466.64" cy="634.53" r="2.3" fill="#000"/>
<circle cx="467.71" cy="634.51" r="2.3" fill="#000"/>
<circle cx="465.04" cy="633.10" r="2.3" fill="#000"/>
<circle cx="437.22" cy="635.50" r="2.3" fill="#000"/>
<circle cx="435.90" cy="635.07" r="2.3" fill="#000"/>
<circle cx="454.73" cy="635.33" r="2.3" fill="#000"/>
<circle cx="438.06" cy="636.56" r="2.3" fill="#000"/>
<circle cx="440.78" cy="633.75" r="2.3" fill="#000"/>
<circle cx="446.36" cy="634.70" r="2.3" fill="#000"/>
<circle cx="453.78" cy="637.76" r="2.3" fill="#000"/>
<circle cx="463.53" cy="633.61" r="2.3" fill="#000"/>
<circle cx="467.15" cy="637.67" r="2.3" fill="#000"/>
<circle cx="466.16" cy="635.71" r="2.3" fill="#000"/>
<circle cx="442.50" cy="636.33" r="2.3" fill="#000"/>
<circle cx="447.37" cy="632.64" r="2.3" fill="#000"/>
<circle cx="460.91" cy="635.63" r="2.3" fill="#000"/>
<circle cx="441.05" cy="632.66" r="2.3" fill="#000"/>
<circle cx="461.62" cy="635.91" r="2.3" fill="#000"/>
<circle cx="449.76" cy="633.20" r="2.3" fill="#000"/>
<circle cx="443.73" cy="631.98" r="2.3" fill="#000"/>
<circle cx="439.37" cy="635.40" r="2.3" fill="#000"/>
<circle cx="456.51" cy="633.00" r="2.3" fill="#000"/>
<circle cx="456.74" cy="634.10" r="2.3" fill="#000"/>
<circle cx="441.99" cy="637.36" r="2.3" fill="#000"/>
<circle cx="442.82" cy="635.00" r="2.3" fill="#000"/>
<circle cx="452.44" cy="631.77" r="2.3" fill="#000"/>
<circle cx="451.20" cy="635.82" r="2.3" fill="#000"/>
<circle cx="449.62" cy="634.97" r="2.3" fill="#000"/>
<circle cx="451.70" cy="633.34" r="2.3" fill="#000"/>
<circle cx="460.08" cy="630.16" r="2.3" fill="#000"/>
<circle cx="466.62" cy="636.04" r="2.3" fill="#000"/>
<circle cx="450.23" cy="635.00" r="2.3" fill="#000"/>
<circle cx="456.50" cy="634.35" r="2.3" fill="#000"/>
<circle cx="458.42" cy="634.56" r="2.3" fill="#000"/>
<circle cx="435.85" cy="638.68" r="2.3" fill="#000"/>
<circle cx="455.27" cy="633.55" r="2.3" fill="#000"/>
<circle cx="468.35" cy="631.77" r="2.3" fill="#000"/>
<circle cx="460.82" cy="634.79" r="2.3" fill="#000"/>
<circle cx="461.43" cy="631.36" r="2.3" fill="#000"/>
<circle cx="457.49" cy="639.06" r="2.3" fill="#000"/>
<circle cx="462.42" cy="635.26" r="2.3" fill="#000"/>
<circle cx="438.37" cy="635.47" r="2.3" fill="#000"/>
<circle cx="434.63" cy="638.06" r="2.3" fill="#000"/>
<circle cx="436.72" cy="635.51" r="2.3" fill="#000"/>
<circle cx="446.64" cy="635.24" r="2.3" fill="#000"/>
<circle cx="469.21" cy="634.29" r="2.3" fill="#000"/>
<circle cx="460.69" cy="635.43" r="2.3" fill="#000"/>
<circle cx="440.91" cy="635.81" r="2.3" fill="#000"/>
<circle cx="463.05" cy="630.92" r="2.3" fill="#000"/>
<circle cx="467.34" cy="635.36" r="2.3" fill="#000"/>
<circle cx="436.97" cy="634.12" r="2.3" fill="#000"/>
<circle cx="447.67" cy="635.84" r="2.3" fill="#000"/>
<circle cx="463.29" cy="635.91" r="2.3" fill="#000"/>
<circle cx="440.96" cy="636.15" r="2.3" fill="#000"/>
<circle cx="453.64" cy="635.79" r="2.3" fill="#000"/>
<circle cx="438.50" cy="634.27" r="2.3" fill="#000"/>
<circle cx="465.43" cy="636.06" r="2.3" fill="#000"/>
<circle cx="452.85" cy="635.59" r="2.3" fill="#000"/>
<circle cx="439.26" cy="637.60" r="2.3" fill="#000"/>
<circle cx="462.90" cy="635.31" r="2.3" fill="#000"/>
<circle cx="432.95" cy="635.89" r="2.3" fill="#000"/>
<circle cx="455.43" cy="633.20" r="2.3" fill="#000"/>
<circle cx="447.98" cy="633.47" r="2.3" fill="#000"/>
<circle cx="450.06" cy="634.99" r="2.3" fill="#000"/>
<circle cx="445.21" cy="632.98" r="2.3" fill="#000"/>
<circle cx="450.33" cy="635.59" r="2.3" fill="#000"/>
<circle cx="452.99" cy="636.50" r="2.3" fill="#000"/>
<circle cx="433.19" cy="633.69" r="2.3" fill="#000"/>
<circle cx="456.74" cy="635.32" r="2.3" fill="#000"/>
<circle cx="450.83" cy="636.07" r="2.3" fill="#000"/>
<circle cx="467.70" cy="633.07" r="2.3" fill="#000"/>
<circle cx="434.45" cy="635.11" r="2.3" fill="#000"/>
<circle cx="442.19" cy="639.71" r="2.3" fill="#000"/>
<circle cx="466.55" cy="630.75" r="2.3" fill="#000"/>
<circle cx="465.98" cy="624.65" r="2.3" fill="#000"/>
<circle cx="465.61" cy="619.82" r="2.3" fill="#000"/>
<circle cx="474.46" cy="623.83" r="2.3" fill="#000"/>
<circle cx="473.92" cy="622.06" r="2.3" fill="#000"/>
<circle cx="477.22" cy="623.64" r="2.3" fill="#000"/>
<circle cx="471.37" cy="628.97" r="2.3" fill="#000"/>
<circle cx="473.38" cy="632.07" r="2.3" fill="#000"/>
<circle cx="473.27" cy="628.64" r="2.3" fill="#000"/>
<circle cx="470.84" cy="630.06" r="2.3" fill="#000"/>
<circle cx="472.11" cy="628.17" r="2.3" fill="#000"/>
<circle cx="471.56" cy="630.67" r="2.3" fill="#000"/>
<circle cx="473.97" cy="630.49" r="2.3" fill="#000"/>
<circle cx="467.51" cy="613.42" r="2.3" fill="#000"/>
<circle cx="464.55" cy="630.42" r="2.3" fill="#000"/>
<circle cx="472.61" cy="640.40" r="2.3" fill="#000"/>
<circle cx="473.45" cy="633.52" r="2.3" fill="#000"/>
<circle cx="473.16" cy="634.05" r="2.3" fill="#000"/>
<circle cx="473.15" cy="632.79" r="2.3" fill="#000"/>
<circle cx="474.54" cy="630.62" r="2.3" fill="#000"/>
<circle cx="470.50" cy="629.68" r="2.3" fill="#000"/>
<circle cx="476.39" cy="627.05" r="2.3" fill="#000"/>
<circle cx="473.93" cy="640.66" r="2.3" fill="#000"/>
<circle cx="471.34" cy="630.45" r="2.3" fill="#000"/>
<circle cx="470.13" cy="637.58" r="2.3" fill="#000"/>
<circle cx="472.48" cy="630.41" r="2.3" fill="#000"/>
<circle cx="473.43" cy="637.70" r="2.3" fill="#000"/>
<circle cx="477.36" cy="637.13" r="2.3" fill="#000"/>
<circle cx="475.96" cy="632.55" r="2.3" fill="#000"/>
<circle cx="490.03" cy="646.31" r="2.3" fill="#000"/>
<circle cx="487.07" cy="633.39" r="2.3" fill="#000"/>
<circle cx="495.92" cy="633.28" r="2.3" fill="#000"/>
<circle cx="487.95" cy="617.60" r="2.3" fill="#000"/>
<circle cx="491.64" cy="619.80" r="2.3" fill="#000"/>
<circle cx="495.50" cy="645.51" r="2.3" fill="#000"/>
<circle cx="493.44" cy="648.35" r="2.3" fill="#000"/>
<circle cx="495.31" cy="650.76" r="2.3" fill="#000"/>
<circle cx="494.37" cy="636.11" r="2.3" fill="#000"/>
<circle cx="493.86" cy="646.21" r="2.3" fill="#000"/>
<circle cx="493.60" cy="618.12" r="2.3" fill="#000"/>
<circle cx="487.75" cy="627.97" r="2.3" fill="#000"/>
<circle cx="489.49" cy="625.89" r="2.3" fill="#000"/>
<circle cx="495.11" cy="649.97" r="2.3" fill="#000"/>
<circle cx="494.66" cy="646.61" r="2.3" fill="#000"/>
<circle cx="486.00" cy="649.14" r="2.3" fill="#000"/>
<circle cx="490.25" cy="635.24" r="2.3" fill="#000"/>
<circle cx="493.74" cy="637.89" r="2.3" fill="#000"/>
<circle cx="494.41" cy="641.28" r="2.3" fill="#000"/>
<circle cx="482.62" cy="657.16" r="2.3" fill="#000"/>
<circle cx="482.43" cy="635.05" r="2.3" fill="#000"/>
<circle cx="480.97" cy="636.63" r="2.3" fill="#000"/>
<circle cx="485.35" cy="629.61" r="2.3" fill="#000"/>
<circle cx="488.26" cy="637.87" r="2.3" fill="#000"/>
<circle cx="492.47" cy="626.35" r="2.3" fill="#000"/>
<circle cx="480.66" cy="621.38" r="2.3" fill="#000"/>
<circle cx="494.67" cy="632.94" r="2.3" fill="#000"/>
<circle cx="488.38" cy="645.23" r="2.3" fill="#000"/>
<circle cx="488.94" cy="630.95" r="2.3" fill="#000"/>
<circle cx="480.21" cy="632.07" r="2.3" fill="#000"/>
<circle cx="492.98" cy="648.99" r="2.3" fill="#000"/>
<circle cx="487.13" cy="637.40" r="2.3" fill="#000"/>
<circle cx="492.04" cy="633.81" r="2.3" fill="#000"/>
<circle cx="482.27" cy="651.26" r="2.3" fill="#000"/>
<circle cx="493.88" cy="636.87" r="2.3" fill="#000"/>
<circle cx="494.55" cy="636.03" r="2.3" fill="#000"/>
<circle cx="483.88" cy="641.90" r="2.3" fill="#000"/>
<circle cx="485.38" cy="634.72" r="2.3" fill="#000"/>
<circle cx="489.44" cy="633.90" r="2.3" fill="#000"/>
<circle cx="491.58" cy="633.99" r="2.3" fill="#000"/>
<circle cx="483.67" cy="635.87" r="2.3" fill="#000"/>
<circle cx="482.59" cy="657.70" r="2.3" fill="#000"/>
<circle cx="487.47" cy="632.02" r="2.3" fill="#000"/>
<circle cx="487.54" cy="641.26" r="2.3" fill="#000"/>
<circle cx="486.54" cy="639.66" r="2.3" fill="#000"/>
<circle cx="519.54" cy="633.97" r="2.3" fill="#000"/>
<circle cx="523.31" cy="633.31" r="2.3" fill="#000"/>
<circle cx="525.65" cy="636.04" r="2.3" fill="#000"/>
<circle cx="528.02" cy="635.67" r="2.3" fill="#000"/>
<circle cx="504.73" cy="635.91" r="2.3" fill="#000"/>
<circle cx="522.70" cy="633.10" r="2.3" fill="#000"/>
<circle cx="530.61" cy="632.98" r="2.3" fill="#000"/>
<circle cx="522.11" cy="633.88" r="2.3" fill="#000"/>
<circle cx="526.04" cy="630.05" r="2.3" fill="#000"/>
<circle cx="520.58" cy="636.04" r="2.3" fill="#000"/>
<circle cx="509.88" cy="631.36" r="2.3" fill="#000"/>
<circle cx="512.01" cy="634.34" r="2.3" fill="#000"/>
<circle cx="505.72" cy="633.83" r="2.3" fill="#000"/>
<circle cx="505.42" cy="632.68" r="2.3" fill="#000"/>
<circle cx="520.00" cy="632.46" r="2.3" fill="#000"/>
<circle cx="498.93" cy="636.26" r="2.3" fill="#000"/>
<circle cx="500.52" cy="633.23" r="2.3" fill="#000"/>
<circle cx="501.06" cy="636.28" r="2.3" fill="#000"/>
<circle cx="510.36" cy="632.60" r="2.3" fill="#000"/>
<circle cx="521.94" cy="635.44" r="2.3" fill="#000"/>
<circle cx="511.76" cy="634.24" r="2.3" fill="#000"/>
<circle cx="528.34" cy="634.62" r="2.3" fill="#000"/>
<circle cx="526.31" cy="630.75" r="2.3" fill="#000"/>
<circle cx="514.87" cy="630.09" r="2.3" fill="#000"/>
<circle cx="518.09" cy="638.45" r="2.3" fill="#000"/>
<circle cx="530.26" cy="635.61" r="2.3" fill="#000"/>
<circle cx="522.76" cy="631.99" r="2.3" fill="#000"/>
<circle cx="509.19" cy="635.47" r="2.3" fill="#000"/>
<circle cx="520.85" cy="627.51" r="2.3" fill="#000"/>
<circle cx="528.28" cy="633.58" r="2.3" fill="#000"/>
<circle cx="519.25" cy="631.81" r="2.3" fill="#000"/>
<circle cx="516.76" cy="628.29" r="2.3" fill="#000"/>
<circle cx="524.59" cy="635.03" r="2.3" fill="#000"/>
<circle cx="508.43" cy="632.56" r="2.3" fill="#000"/>
<circle cx="519.64" cy="633.86" r="2.3" fill="#000"/>
<circle cx="527.73" cy="633.56" r="2.3" fill="#000"/>
<circle cx="518.24" cy="633.00" r="2.3" fill="#000"/>
<circle cx="522.96" cy="630.26" r="2.3" fill="#000"/>
<circle cx="511.76" cy="634.12" r="2.3" fill="#000"/>
<circle cx="514.50" cy="631.14" r="2.3" fill="#000"/>
<circle cx="516.12" cy="632.07" r="2.3" fill="#000"/>
<circle cx="506.79" cy="635.37" r="2.3" fill="#000"/>
<circle cx="499.28" cy="633.38" r="2.3" fill="#000"/>
<circle cx="502.79" cy="636.37" r="2.3" fill="#000"/>
<circle cx="497.15" cy="634.13" r="2.3" fill="#000"/>
<circle cx="520.57" cy="635.32" r="2.3" fill="#000"/>
<circle cx="519.18" cy="637.19" r="2.3" fill="#000"/>
<circle cx="501.90" cy="631.42" r="2.3" fill="#000"/>
<circle cx="528.57" cy="632.22" r="2.3" fill="#000"/>
<circle cx="523.26" cy="635.00" r="2.3" fill="#000"/>
<circle cx="522.14" cy="629.86" r="2.3" fill="#000"/>
<circle cx="519.71" cy="636.48" r="2.3" fill="#000"/>
<circle cx="511.86" cy="628.51" r="2.3" fill="#000"/>
<circle cx="523.47" cy="635.88" r="2.3" fill="#000"/>
<circle cx="523.26" cy="632.53" r="2.3" fill="#000"/>
<circle cx="497.38" cy="634.08" r="2.3" fill="#000"/>
<circle cx="526.46" cy="630.06" r="2.3" fill="#000"/>
<circle cx="525.94" cy="632.40" r="2.3" fill="#000"/>
<circle cx="503.46" cy="632.58" r="2.3" fill="#000"/>
<circle cx="498.91" cy="632.36" r="2.3" fill="#000"/>
<circle cx="499.69" cy="637.57" r="2.3" fill="#000"/>
<circle cx="496.57" cy="627.16" r="2.3" fill="#000"/>
<circle cx="504.37" cy="628.70" r="2.3" fill="#000"/>
<circle cx="525.93" cy="635.54" r="2.3" fill="#000"/>
<circle cx="502.92" cy="634.85" r="2.3" fill="#000"/>
<circle cx="503.23" cy="634.89" r="2.3" fill="#000"/>
<circle cx="508.70" cy="629.05" r="2.3" fill="#000"/>
<circle cx="523.56" cy="633.51" r="2.3" fill="#000"/>
<circle cx="524.95" cy="632.47" r="2.3" fill="#000"/>
<circle cx="514.58" cy="634.15" r="2.3" fill="#000"/>
<circle cx="507.43" cy="635.62" r="2.3" fill="#000"/>
<circle cx="530.40" cy="632.60" r="2.3" fill="#000"/>
<circle cx="499.34" cy="631.03" r="2.3" fill="#000"/>
<circle cx="522.81" cy="635.63" r="2.3" fill="#000"/>
<circle cx="520.24" cy="637.12" r="2.3" fill="#000"/>
<circle cx="524.88" cy="637.03" r="2.3" fill="#000"/>
<circle cx="515.02" cy="636.85" r="2.3" fill="#000"/>
<circle cx="504.88" cy="632.32" r="2.3" fill="#000"/>
<circle cx="503.75" cy="631.55" r="2.3" fill="#000"/>
<circle cx="509.87" cy="633.66" r="2.3" fill="#000"/>
<circle cx="526.19" cy="634.72" r="2.3" fill="#000"/>
<circle cx="496.92" cy="629.95" r="2.3" fill="#000"/>
<circle cx="520.59" cy="633.74" r="2.3" fill="#000"/>
<circle cx="504.99" cy="635.12" r="2.3" fill="#000"/>
<circle cx="528.42" cy="630.56" r="2.3" fill="#000"/>
<circle cx="497.79" cy="634.42" r="2.3" fill="#000"/>
<circle cx="522.91" cy="634.75" r="2.3" fill="#000"/>
<circle cx="512.08" cy="632.90" r="2.3" fill="#000"/>
<circle cx="525.92" cy="634.83" r="2.3" fill="#000"/>
<circle cx="516.68" cy="631.93" r="2.3" fill="#000"/>
<circle cx="505.13" cy="632.52" r="2.3" fill="#000"/>
<circle cx="513.37" cy="632.43" r="2.3" fill="#000"/>
<circle cx="514.82" cy="634.36" r="2.3" fill="#000"/>
<circle cx="497.96" cy="632.63" r="2.3" fill="#000"/>
<circle cx="510.78" cy="635.66" r="2.3" fill="#000"/>
<circle cx="511.71" cy="632.09" r="2.3" fill="#000"/>
<circle cx="524.81" cy="632.83" r="2.3" fill="#000"/>
<circle cx="520.10" cy="636.82" r="2.3" fill="#000"/>
<circle cx="531.71" cy="634.80" r="2.3" fill="#000"/>
<circle cx="525.49" cy="633.22" r="2.3" fill="#000"/>
<circle cx="516.09" cy="636.85" r="2.3" fill="#000"/>
<circle cx="528.74" cy="631.22" r="2.3" fill="#000"/>
<circle cx="504.24" cy="634.84" r="2.3" fill="#000"/>
<circle cx="509.70" cy="632.45" r="2.3" fill="#000"/>
<circle cx="500.99" cy="631.39" r="2.3" fill="#000"/>
<circle cx="509.84" cy="631.52" r="2.3" fill="#000"/>
<circle cx="521.19" cy="629.29" r="2.3" fill="#000"/>
<circle cx="508.99" cy="627.29" r="2.3" fill="#000"/>
<circle cx="498.88" cy="636.10" r="2.3" fill="#000"/>
<circle cx="504.52" cy="629.97" r="2.3" fill="#000"/>
<circle cx="500.87" cy="634.49" r="2.3" fill="#000"/>
<circle cx="521.90" cy="635.69" r="2.3" fill="#000"/>
<circle cx="508.87" cy="633.06" r="2.3" fill="#000"/>
<circle cx="497.84" cy="633.81" r="2.3" fill="#000"/>
<circle cx="531.22" cy="630.82" r="2.3" fill="#000"/>
<circle cx="531.13" cy="631.48" r="2.3" fill="#000"/>
<circle cx="518.07" cy="635.27" r="2.3" fill="#000"/>
<circle cx="514.19" cy="631.49" r="2.3" fill="#000"/>
<circle cx="528.20" cy="629.29" r="2.3" fill="#000"/>
<circle cx="522.69" cy="632.91" r="2.3" fill="#000"/>
<circle cx="513.61" cy="633.12" r="2.3" fill="#000"/>
<circle cx="497.85" cy="634.92" r="2.3" fill="#000"/>
<circle cx="506.37" cy="634.44" r="2.3" fill="#000"/>
<circle cx="509.66" cy="633.94" r="2.3" fill="#000"/>
<circle cx="529.17" cy="633.85" r="2.3" fill="#000"/>
<circle cx="531.81" cy="634.96" r="2.3" fill="#000"/>
<circle cx="522.41" cy="633.74" r="2.3" fill="#000"/>
<circle cx="510.68" cy="631.44" r="2.3" fill="#000"/>
<circle cx="499.01" cy="632.65" r="2.3" fill="#000"/>
<circle cx="497.19" cy="633.45" r="2.3" fill="#000"/>
<circle cx="519.78" cy="630.25" r="2.3" fill="#000"/>
<circle cx="524.92" cy="636.22" r="2.3" fill="#000"/>
<circle cx="514.14" cy="634.78" r="2.3" fill="#000"/>
<circle cx="527.62" cy="630.69" r="2.3" fill="#000"/>
<circle cx="526.25" cy="634.77" r="2.3" fill="#000"/>
<circle cx="528.10" cy="635.79" r="2.3" fill="#000"/>
<circle cx="509.74" cy="632.98" r="2.3" fill="#000"/>
<circle cx="514.61" cy="632.54" r="2.3" fill="#000"/>
<circle cx="513.98" cy="631.34" r="2.3" fill="#000"/>
<circle cx="531.46" cy="634.71" r="2.3" fill="#000"/>
<circle cx="503.60" cy="633.94" r="2.3" fill="#000"/>
<circle cx="506.62" cy="631.37" r="2.3" fill="#000"/>
<circle cx="496.79" cy="634.35" r="2.3" fill="#000"/>
<circle cx="512.01" cy="633.67" r="2.3" fill="#000"/>
<circle cx="517.76" cy="638.06" r="2.3" fill="#000"/>
<circle cx="526.13" cy="626.08" r="2.3" fill="#000"/>
<circle cx="529.86" cy="630.75" r="2.3" fill="#000"/>
<circle cx="527.98" cy="633.87" r="2.3" fill="#000"/>
<circle cx="503.83" cy="632.31" r="2.3" fill="#000"/>
<circle cx="497.09" cy="635.09" r="2.3" fill="#000"/>
<circle cx="543.29" cy="625.28" r="2.3" fill="#000"/>
<circle cx="537.06" cy="642.14" r="2.3" fill="#000"/>
<circle cx="534.03" cy="626.41" r="2.3" fill="#000"/>
<circle cx="541.51" cy="638.64" r="2.3" fill="#000"/>
<circle cx="526.61" cy="630.47" r="2.3" fill="#000"/>
<circle cx="541.21" cy="633.85" r="2.3" fill="#000"/>
<circle cx="527.04" cy="635.42" r="2.3" fill="#000"/>
<circle cx="526.13" cy="635.91" r="2.3" fill="#000"/>
<circle cx="530.59" cy="640.59" r="2.3" fill="#000"/>
<circle cx="536.79" cy="639.20" r="2.3" fill="#000"/>
<circle cx="540.52" cy="645.04" r="2.3" fill="#000"/>
<circle cx="534.09" cy="632.46" r="2.3" fill="#000"/>
<circle cx="536.74" cy="642.57" r="2.3" fill="#000"/>
<circle cx="540.85" cy="646.64" r="2.3" fill="#000"/>
<circle cx="533.87" cy="644.27" r="2.3" fill="#000"/>
<circle cx="539.97" cy="628.20" r="2.3" fill="#000"/>
<circle cx="542.44" cy="643.03" r="2.3" fill="#000"/>
<circle cx="533.09" cy="625.58" r="2.3" fill="#000"/>
<circle cx="536.01" cy="632.99" r="2.3" fill="#000"/>
<circle cx="543.51" cy="637.73" r="2.3" fill="#000"/>
<circle cx="540.31" cy="644.81" r="2.3" fill="#000"/>
<circle cx="543.61" cy="642.68" r="2.3" fill="#000"/>
<circle cx="532.31" cy="637.30" r="2.3" fill="#000"/>
<circle cx="533.64" cy="631.71" r="2.3" fill="#000"/>
<circle cx="534.30" cy="634.74" r="2.3" fill="#000"/>
<circle cx="533.30" cy="625.92" r="2.3" fill="#000"/>
<circle cx="539.77" cy="631.72" r="2.3" fill="#000"/>
<circle cx="532.72" cy="640.27" r="2.3" fill="#000"/>
<circle cx="527.48" cy="641.37" r="2.3" fill="#000"/>
<circle cx="526.62" cy="642.57" r="2.3" fill="#000"/>
<circle cx="532.04" cy="649.24" r="2.3" fill="#000"/>
<circle cx="540.55" cy="642.16" r="2.3" fill="#000"/>
<circle cx="540.66" cy="642.80" r="2.3" fill="#000"/>
<circle cx="542.58" cy="640.80" r="2.3" fill="#000"/>
<circle cx="532.72" cy="643.39" r="2.3" fill="#000"/>
<circle cx="536.36" cy="638.67" r="2.3" fill="#000"/>
<circle cx="541.37" cy="635.86" r="2.3" fill="#000"/>
<circle cx="526.28" cy="652.11" r="2.3" fill="#000"/>
<circle cx="527.76" cy="634.71" r="2.3" fill="#000"/>
<circle cx="541.83" cy="645.41" r="2.3" fill="#000"/>
<circle cx="540.11" cy="638.34" r="2.3" fill="#000"/>
<circle cx="530.31" cy="633.35" r="2.3" fill="#000"/>
<circle cx="527.74" cy="646.43" r="2.3" fill="#000"/>
<circle cx="527.60" cy="645.25" r="2.3" fill="#000"/>
<circle cx="527.99" cy="645.52" r="2.3" fill="#000"/>
<circle cx="526.42" cy="636.82" r="2.3" fill="#000"/>
<circle cx="541.95" cy="632.25" r="2.3" fill="#000"/>
<circle cx="529.13" cy="638.90" r="2.3" fill="#000"/>
<circle cx="542.06" cy="639.61" r="2.3" fill="#000"/>
<circle cx="542.60" cy="649.26" r="2.3" fill="#000"/>
<circle cx="527.90" cy="632.37" r="2.3" fill="#000"/>
<circle cx="539.50" cy="644.94" r="2.3" fill="#000"/>
<circle cx="533.54" cy="636.90" r="2.3" fill="#000"/>
<circle cx="532.69" cy="638.72" r="2.3" fill="#000"/>
<circle cx="537.83" cy="631.79" r="2.3" fill="#000"/>
<circle cx="528.69" cy="637.83" r="2.3" fill="#000"/>
<circle cx="528.49" cy="649.12" r="2.3" fill="#000"/>
<circle cx="542.45" cy="633.17" r="2.3" fill="#000"/>
<circle cx="543.97" cy="641.74" r="2.3" fill="#000"/>
<circle cx="534.33" cy="643.71" r="2.3" fill="#000"/>
<circle cx="538.44" cy="640.10" r="2.3" fill="#000"/>
<circle cx="538.00" cy="645.14" r="2.3" fill="#000"/>
<circle cx="527.42" cy="651.31" r="2.3" fill="#000"/>
<circle cx="542.96" cy="631.30" r="2.3" fill="#000"/>
<circle cx="533.14" cy="627.66" r="2.3" fill="#000"/>
<circle cx="534.25" cy="633.83" r="2.3" fill="#000"/>
<circle cx="526.78" cy="651.26" r="2.3" fill="#000"/>
<circle cx="532.88" cy="632.90" r="2.3" fill="#000"/>
<circle cx="543.29" cy="637.20" r="2.3" fill="#000"/>
<circle cx="527.70" cy="636.41" r="2.3" fill="#000"/>
<circle cx="534.10" cy="630.90" r="2.3" fill="#000"/>
<circle cx="535.96" cy="638.00" r="2.3" fill="#000"/>
<circle cx="538.90" cy="644.05" r="2.3" fill="#000"/>
<circle cx="528.60" cy="634.80" r="2.3" fill="#000"/>
<circle cx="532.49" cy="633.96" r="2.3" fill="#000"/>
<circle cx="554.82" cy="636.02" r="2.3" fill="#000"/>
<circle cx="546.83" cy="643.06" r="2.3" fill="#000"/>
<circle cx="561.93" cy="622.55" r="2.3" fill="#000"/>
<circle cx="565.15" cy="611.91" r="2.3" fill="#000"/>
<circle cx="552.46" cy="634.63" r="2.3" fill="#000"/>
<circle cx="552.83" cy="641.03" r="2.3" fill="#000"/>
<circle cx="549.14" cy="625.80" r="2.3" fill="#000"/>
<circle cx="555.29" cy="631.62" r="2.3" fill="#000"/>
<circle cx="559.12" cy="631.31" r="2.3" fill="#000"/>
<circle cx="559.05" cy="618.78" r="2.3" fill="#000"/>
<circle cx="552.42" cy="619.05" r="2.3" fill="#000"/>
<circle cx="549.99" cy="626.71" r="2.3" fill="#000"/>
<circle cx="555.80" cy="623.35" r="2.3" fill="#000"/>
<circle cx="566.85" cy="627.49" r="2.3" fill="#000"/>
<circle cx="566.26" cy="625.24" r="2.3" fill="#000"/>
<circle cx="562.80" cy="624.38" r="2.3" fill="#000"/>
<circle cx="552.74" cy="625.76" r="2.3" fill="#000"/>
<circle cx="548.41" cy="617.72" r="2.3" fill="#000"/>
<circle cx="560.70" cy="622.91" r="2.3" fill="#000"/>
<circle cx="565.80" cy="621.89" r="2.3" fill="#000"/>
<circle cx="559.31" cy="618.59" r="2.3" fill="#000"/>
<circle cx="560.91" cy="624.38" r="2.3" fill="#000"/>
<circle cx="555.25" cy="630.98" r="2.3" fill="#000"/>
<circle cx="564.81" cy="613.27" r="2.3" fill="#000"/>
<circle cx="546.07" cy="623.62" r="2.3" fill="#000"/>
<circle cx="552.72" cy="634.61" r="2.3" fill="#000"/>
<circle cx="561.93" cy="610.59" r="2.3" fill="#000"/>
<circle cx="546.90" cy="629.15" r="2.3" fill="#000"/>
<circle cx="567.00" cy="621.73" r="2.3" fill="#000"/>
<circle cx="558.33" cy="615.16" r="2.3" fill="#000"/>
<circle cx="558.37" cy="622.92" r="2.3" fill="#000"/>
<circle cx="545.89" cy="629.88" r="2.3" fill="#000"/>
<circle cx="557.32" cy="632.99" r="2.3" fill="#000"/>
<circle cx="559.93" cy="622.77" r="2.3" fill="#000"/>
<circle cx="546.41" cy="612.40" r="2.3" fill="#000"/>
<circle cx="548.47" cy="618.71" r="2.3" fill="#000"/>
<circle cx="559.90" cy="619.09" r="2.3" fill="#000"/>
<circle cx="551.42" cy="622.22" r="2.3" fill="#000"/>
<circle cx="566.45" cy="628.35" r="2.3" fill="#000"/>
<circle cx="549.73" cy="633.94" r="2.3" fill="#000"/>
<circle cx="560.62" cy="637.03" r="2.3" fill="#000"/>
<circle cx="562.54" cy="634.73" r="2.3" fill="#000"/>
<circle cx="545.97" cy="635.22" r="2.3" fill="#000"/>
<circle cx="546.74" cy="629.37" r="2.3" fill="#000"/>
<circle cx="546.20" cy="632.50" r="2.3" fill="#000"/>
<circle cx="545.33" cy="636.22" r="2.3" fill="#000"/>
<circle cx="556.19" cy="625.46" r="2.3" fill="#000"/>
<circle cx="564.75" cy="624.55" r="2.3" fill="#000"/>
<circle cx="547.64" cy="632.47" r="2.3" fill="#000"/>
<circle cx="545.59" cy="629.99" r="2.3" fill="#000"/>
<circle cx="559.64" cy="612.79" r="2.3" fill="#000"/>
<circle cx="562.07" cy="635.33" r="2.3" fill="#000"/>
<circle cx="545.97" cy="633.20" r="2.3" fill="#000"/>
<circle cx="544.45" cy="621.50" r="2.3" fill="#000"/>
<circle cx="545.81" cy="630.29" r="2.3" fill="#000"/>
<circle cx="551.01" cy="636.01" r="2.3" fill="#000"/>
<circle cx="556.10" cy="626.30" r="2.3" fill="#000"/>
<circle cx="562.01" cy="622.31" r="2.3" fill="#000"/>
<circle cx="567.14" cy="639.03" r="2.3" fill="#000"/>
<circle cx="559.37" cy="616.80" r="2.3" fill="#000"/>
<circle cx="555.21" cy="623.44" r="2.3" fill="#000"/>
<circle cx="550.34" cy="630.62" r="2.3" fill="#000"/>
<circle cx="567.02" cy="622.30" r="2.3" fill="#000"/>
<circle cx="554.38" cy="627.78" r="2.3" fill="#000"/>
<circle cx="564.74" cy="627.26" r="2.3" fill="#000"/>
<circle cx="548.46" cy="637.14" r="2.3" fill="#000"/>
<circle cx="544.46" cy="637.60" r="2.3" fill="#000"/>
<circle cx="563.60" cy="639.80" r="2.3" fill="#000"/>
<circle cx="560.55" cy="628.57" r="2.3" fill="#000"/>
<circle cx="547.05" cy="635.27" r="2.3" fill="#000"/>
<circle cx="557.43" cy="621.09" r="2.3" fill="#000"/>
<circle cx="555.51" cy="622.94" r="2.3" fill="#000"/>
<circle cx="565.21" cy="622.10" r="2.3" fill="#000"/>
<circle cx="563.61" cy="624.46" r="2.3" fill="#000"/>
<circle cx="562.75" cy="621.34" r="2.3" fill="#000"/>
<circle cx="554.11" cy="632.13" r="2.3" fill="#000"/>
<circle cx="565.62" cy="619.07" r="2.3" fill="#000"/>
<circle cx="544.32" cy="619.19" r="2.3" fill="#000"/>
<circle cx="562.25" cy="619.27" r="2.3" fill="#000"/>
<circle cx="552.32" cy="641.62" r="2.3" fill="#000"/>
<circle cx="549.87" cy="623.48" r="2.3" fill="#000"/>
<circle cx="562.32" cy="624.81" r="2.3" fill="#000"/>
<circle cx="562.59" cy="631.70" r="2.3" fill="#000"/>
<circle cx="559.85" cy="641.37" r="2.3" fill="#000"/>
<circle cx="547.47" cy="619.12" r="2.3" fill="#000"/>
<circle cx="570.09" cy="624.71" r="2.3" fill="#000"/>
<circle cx="578.17" cy="609.41" r="2.3" fill="#000"/>
<circle cx="571.70" cy="638.59" r="2.3" fill="#000"/>
<circle cx="574.15" cy="615.85" r="2.3" fill="#000"/>
<circle cx="581.09" cy="628.55" r="2.3" fill="#000"/>
<circle cx="574.73" cy="623.34" r="2.3" fill="#000"/>
<circle cx="585.49" cy="637.67" r="2.3" fill="#000"/>
<circle cx="572.13" cy="625.02" r="2.3" fill="#000"/>
<circle cx="578.28" cy="636.50" r="2.3" fill="#000"/>
<circle cx="581.11" cy="630.02" r="2.3" fill="#000"/>
<circle cx="580.72" cy="626.17" r="2.3" fill="#000"/>
<circle cx="579.52" cy="631.01" r="2.3" fill="#000"/>
<circle cx="584.74" cy="621.43" r="2.3" fill="#000"/>
<circle cx="579.15" cy="626.99" r="2.3" fill="#000"/>
<circle cx="570.19" cy="631.82" r="2.3" fill="#000"/>
<circle cx="581.08" cy="623.62" r="2.3" fill="#000"/>
<circle cx="570.89" cy="630.52" r="2.3" fill="#000"/>
<circle cx="576.28" cy="619.69" r="2.3" fill="#000"/>
<circle cx="574.27" cy="629.50" r="2.3" fill="#000"/>
<circle cx="585.30" cy="630.08" r="2.3" fill="#000"/>
<circle cx="587.54" cy="620.96" r="2.3" fill="#000"/>
<circle cx="570.91" cy="610.85" r="2.3" fill="#000"/>
<circle cx="587.37" cy="626.07" r="2.3" fill="#000"/>
<circle cx="580.57" cy="618.99" r="2.3" fill="#000"/>
<circle cx="583.95" cy="627.84" r="2.3" fill="#000"/>
<circle cx="568.98" cy="618.16" r="2.3" fill="#000"/>
<circle cx="578.96" cy="626.11" r="2.3" fill="#000"/>
<circle cx="571.44" cy="623.93" r="2.3" fill="#000"/>
<circle cx="576.23" cy="624.07" r="2.3" fill="#000"/>
<circle cx="584.81" cy="640.91" r="2.3" fill="#000"/>
<circle cx="579.76" cy="636.99" r="2.3" fill="#000"/>
<circle cx="568.11" cy="621.25" r="2.3" fill="#000"/>
<circle cx="575.07" cy="636.81" r="2.3" fill="#000"/>
<circle cx="579.30" cy="615.72" r="2.3" fill="#000"/>
<circle cx="578.76" cy="611.98" r="2.3" fill="#000"/>
<circle cx="576.75" cy="631.37" r="2.3" fill="#000"/>
<circle cx="586.00" cy="615.89" r="2.3" fill="#000"/>
<circle cx="578.97" cy="617.76" r="2.3" fill="#000"/>
<circle cx="585.26" cy="624.20" r="2.3" fill="#000"/>
<circle cx="577.19" cy="636.50" r="2.3" fill="#000"/>
<circle cx="585.03" cy="634.40" r="2.3" fill="#000"/>
<circle cx="576.88" cy="620.11" r="2.3" fill="#000"/>
<circle cx="587.76" cy="641.99" r="2.3" fill="#000"/>
<circle cx="570.00" cy="615.86" r="2.3" fill="#000"/>
<circle cx="578.65" cy="613.27" r="2.3" fill="#000"/>
<circle cx="587.29" cy="626.12" r="2.3" fill="#000"/>
<circle cx="587.87" cy="645.27" r="2.3" fill="#000"/>
<circle cx="571.32" cy="611.50" r="2.3" fill="#000"/>
<circle cx="575.41" cy="612.49" r="2.3" fill="#000"/>
<circle cx="577.67" cy="626.60" r="2.3" fill="#000"/>
<circle cx="571.02" cy="613.43" r="2.3" fill="#000"/>
<circle cx="572.28" cy="604.28" r="2.3" fill="#000"/>
<circle cx="584.52" cy="627.46" r="2.3" fill="#000"/>
<circle cx="586.30" cy="628.44" r="2.3" fill="#000"/>
<circle cx="577.49" cy="629.23" r="2.3" fill="#000"/>
<circle cx="569.58" cy="609.81" r="2.3" fill="#000"/>
<circle cx="582.15" cy="640.65" r="2.3" fill="#000"/>
<circle cx="578.76" cy="613.35" r="2.3" fill="#000"/>
<circle cx="585.69" cy="623.48" r="2.3" fill="#000"/>
<circle cx="578.10" cy="630.12" r="2.3" fill="#000"/>
<circle cx="575.02" cy="617.95" r="2.3" fill="#000"/>
<circle cx="579.83" cy="616.47" r="2.3" fill="#000"/>
<circle cx="597.78" cy="629.11" r="2.3" fill="#000"/>
<circle cx="591.74" cy="623.94" r="2.3" fill="#000"/>
<circle cx="588.86" cy="622.99" r="2.3" fill="#000"/>
<circle cx="603.62" cy="618.53" r="2.3" fill="#000"/>
<circle cx="605.83" cy="609.99" r="2.3" fill="#000"/>
<circle cx="597.72" cy="625.48" r="2.3" fill="#000"/>
<circle cx="603.44" cy="623.92" r="2.3" fill="#000"/>
<circle cx="592.88" cy="620.02" r="2.3" fill="#000"/>
<circle cx="595.74" cy="620.98" r="2.3" fill="#000"/>
<circle cx="602.22" cy="612.78" r="2.3" fill="#000"/>
<circle cx="588.16" cy="609.83" r="2.3" fill="#000"/>
<circle cx="600.78" cy="614.73" r="2.3" fill="#000"/>
<circle cx="591.36" cy="630.67" r="2.3" fill="#000"/>
<circle cx="601.60" cy="624.12" r="2.3" fill="#000"/>
<circle cx="595.53" cy="608.15" r="2.3" fill="#000"/>
<circle cx="599.73" cy="605.05" r="2.3" fill="#000"/>
<circle cx="596.39" cy="604.27" r="2.3" fill="#000"/>
<circle cx="605.39" cy="614.99" r="2.3" fill="#000"/>
<circle cx="602.41" cy="621.10" r="2.3" fill="#000"/>
<circle cx="593.30" cy="631.02" r="2.3" fill="#000"/>
<circle cx="605.72" cy="621.76" r="2.3" fill="#000"/>
<circle cx="601.20" cy="627.91" r="2.3" fill="#000"/>
<circle cx="595.83" cy="606.38" r="2.3" fill="#000"/>
<circle cx="596.59" cy="619.24" r="2.3" fill="#000"/>
<circle cx="602.17" cy="623.25" r="2.3" fill="#000"/>
<circle cx="605.41" cy="622.18" r="2.3" fill="#000"/>
<circle cx="598.74" cy="607.94" r="2.3" fill="#000"/>
<circle cx="600.78" cy="630.57" r="2.3" fill="#000"/>
<circle cx="601.89" cy="618.09" r="2.3" fill="#000"/>
<circle cx="592.71" cy="624.74" r="2.3" fill="#000"/>
<circle cx="596.26" cy="609.53" r="2.3" fill="#000"/>
<circle cx="594.79" cy="610.58" r="2.3" fill="#000"/>
<circle cx="598.84" cy="612.91" r="2.3" fill="#000"/>
<circle cx="595.72" cy="622.62" r="2.3" fill="#000"/>
<circle cx="602.22" cy="616.11" r="2.3" fill="#000"/>
<circle cx="594.04" cy="613.27" r="2.3" fill="#000"/>
<circle cx="591.85" cy="620.36" r="2.3" fill="#000"/>
<circle cx="598.48" cy="621.06" r="2.3" fill="#000"/>
<circle cx="592.18" cy="619.48" r="2.3" fill="#000"/>
<circle cx="588.85" cy="611.51" r="2.3" fill="#000"/>
<circle cx="605.83" cy="637.66" r="2.3" fill="#000"/>
<circle cx="596.32" cy="636.23" r="2.3" fill="#000"/>
<circle cx="605.45" cy="638.86" r="2.3" fill="#000"/>
<circle cx="591.43" cy="642.63" r="2.3" fill="#000"/>
<circle cx="604.36" cy="637.90" r="2.3" fill="#000"/>
<circle cx="598.48" cy="637.72" r="2.3" fill="#000"/>
<circle cx="596.34" cy="638.00" r="2.3" fill="#000"/>
<circle cx="592.94" cy="638.60" r="2.3" fill="#000"/>
<circle cx="600.56" cy="638.38" r="2.3" fill="#000"/>
<circle cx="589.18" cy="640.37" r="2.3" fill="#000"/>
<circle cx="595.75" cy="638.05" r="2.3" fill="#000"/>
<circle cx="590.62" cy="634.05" r="2.3" fill="#000"/>
<circle cx="593.12" cy="640.33" r="2.3" fill="#000"/>
<circle cx="593.53" cy="638.00" r="2.3" fill="#000"/>
<circle cx="603.36" cy="644.29" r="2.3" fill="#000"/>
<circle cx="589.78" cy="633.05" r="2.3" fill="#000"/>
<circle cx="603.56" cy="641.19" r="2.3" fill="#000"/>
<circle cx="592.64" cy="636.18" r="2.3" fill="#000"/>
<circle cx="603.82" cy="637.33" r="2.3" fill="#000"/>
<circle cx="589.86" cy="639.79" r="2.3" fill="#000"/>
<circle cx="598.94" cy="641.81" r="2.3" fill="#000"/>
<circle cx="590.32" cy="637.37" r="2.3" fill="#000"/>
<circle cx="602.70" cy="639.37" r="2.3" fill="#000"/>
<circle cx="602.86" cy="637.55" r="2.3" fill="#000"/>
<circle cx="602.05" cy="637.15" r="2.3" fill="#000"/>
<circle cx="617.91" cy="644.42" r="2.3" fill="#000"/>
<circle cx="626.76" cy="645.87" r="2.3" fill="#000"/>
<circle cx="629.46" cy="635.90" r="2.3" fill="#000"/>
<circle cx="624.32" cy="634.21" r="2.3" fill="#000"/>
<circle cx="608.30" cy="639.67" r="2.3" fill="#000"/>
<circle cx="618.55" cy="640.87" r="2.3" fill="#000"/>
<circle cx="622.25" cy="643.05" r="2.3" fill="#000"/>
<circle cx="614.70" cy="635.02" r="2.3" fill="#000"/>
<circle cx="606.74" cy="634.40" r="2.3" fill="#000"/>
<circle cx="617.50" cy="627.21" r="2.3" fill="#000"/>
<circle cx="614.37" cy="636.75" r="2.3" fill="#000"/>
<circle cx="611.72" cy="640.65" r="2.3" fill="#000"/>
<circle cx="621.38" cy="637.21" r="2.3" fill="#000"/>
<circle cx="620.24" cy="635.26" r="2.3" fill="#000"/>
<circle cx="625.94" cy="630.71" r="2.3" fill="#000"/>
<circle cx="627.24" cy="630.75" r="2.3" fill="#000"/>
<circle cx="608.48" cy="637.35" r="2.3" fill="#000"/>
<circle cx="619.14" cy="642.63" r="2.3" fill="#000"/>
<circle cx="623.69" cy="638.02" r="2.3" fill="#000"/>
<circle cx="615.01" cy="629.90" r="2.3" fill="#000"/>
<circle cx="615.37" cy="642.31" r="2.3" fill="#000"/>
<circle cx="617.60" cy="632.07" r="2.3" fill="#000"/>
<circle cx="621.90" cy="630.14" r="2.3" fill="#000"/>
<circle cx="609.58" cy="638.00" r="2.3" fill="#000"/>
<circle cx="611.87" cy="640.41" r="2.3" fill="#000"/>
<circle cx="618.32" cy="642.52" r="2.3" fill="#000"/>
<circle cx="614.29" cy="629.06" r="2.3" fill="#000"/>
<circle cx="626.24" cy="638.90" r="2.3" fill="#000"/>
<circle cx="612.03" cy="645.41" r="2.3" fill="#000"/>
<circle cx="617.73" cy="630.06" r="2.3" fill="#000"/>
<circle cx="616.89" cy="637.36" r="2.3" fill="#000"/>
<circle cx="607.08" cy="639.59" r="2.3" fill="#000"/>
<circle cx="612.88" cy="641.41" r="2.3" fill="#000"/>
<circle cx="621.04" cy="637.86" r="2.3" fill="#000"/>
<circle cx="612.66" cy="642.86" r="2.3" fill="#000"/>
<circle cx="610.92" cy="636.83" r="2.3" fill="#000"/>
<circle cx="607.44" cy="637.38" r="2.3" fill="#000"/>
<circle cx="612.23" cy="638.95" r="2.3" fill="#000"/>
<circle cx="627.87" cy="644.23" r="2.3" fill="#000"/>
<circle cx="615.70" cy="632.39" r="2.3" fill="#000"/>
<circle cx="617.81" cy="631.87" r="2.3" fill="#000"/>
<circle cx="624.22" cy="642.53" r="2.3" fill="#000"/>
<circle cx="614.49" cy="639.02" r="2.3" fill="#000"/>
<circle cx="607.63" cy="638.25" r="2.3" fill="#000"/>
<circle cx="607.43" cy="637.13" r="2.3" fill="#000"/>
<circle cx="620.24" cy="637.76" r="2.3" fill="#000"/>
<circle cx="624.32" cy="635.38" r="2.3" fill="#000"/>
<circle cx="607.51" cy="640.75" r="2.3" fill="#000"/>
<circle cx="621.87" cy="638.45" r="2.3" fill="#000"/>
<circle cx="612.05" cy="634.78" r="2.3" fill="#000"/>
<circle cx="624.69" cy="634.26" r="2.3" fill="#000"/>
<circle cx="618.92" cy="640.29" r="2.3" fill="#000"/>
<circle cx="628.12" cy="629.67" r="2.3" fill="#000"/>
<circle cx="616.39" cy="639.69" r="2.3" fill="#000"/>
<circle cx="607.89" cy="643.65" r="2.3" fill="#000"/>
<circle cx="612.16" cy="630.74" r="2.3" fill="#000"/>
<circle cx="616.95" cy="643.43" r="2.3" fill="#000"/>
<circle cx="610.49" cy="633.58" r="2.3" fill="#000"/>
<circle cx="607.70" cy="633.91" r="2.3" fill="#000"/>
<circle cx="620.13" cy="639.87" r="2.3" fill="#000"/>
<circle cx="609.92" cy="638.26" r="2.3" fill="#000"/>
<circle cx="625.08" cy="637.75" r="2.3" fill="#000"/>
<circle cx="617.03" cy="636.02" r="2.3" fill="#000"/>
<circle cx="608.38" cy="632.26" r="2.3" fill="#000"/>
<circle cx="621.03" cy="641.50" r="2.3" fill="#000"/>
<circle cx="615.89" cy="640.24" r="2.3" fill="#000"/>
<circle cx="622.69" cy="646.15" r="2.3" fill="#000"/>
<circle cx="612.75" cy="634.83" r="2.3" fill="#000"/>
<circle cx="628.79" cy="630.27" r="2.3" fill="#000"/>
<circle cx="618.98" cy="639.24" r="2.3" fill="#000"/>
<circle cx="616.62" cy="634.48" r="2.3" fill="#000"/>
<circle cx="625.22" cy="634.26" r="2.3" fill="#000"/>
<circle cx="617.15" cy="643.90" r="2.3" fill="#000"/>
<circle cx="616.23" cy="639.90" r="2.3" fill="#000"/>
<circle cx="609.65" cy="641.46" r="2.3" fill="#000"/>
<circle cx="610.97" cy="633.50" r="2.3" fill="#000"/>
<circle cx="627.85" cy="640.98" r="2.3" fill="#000"/>
<circle cx="611.76" cy="640.65" r="2.3" fill="#000"/>
<circle cx="611.27" cy="636.76" r="2.3" fill="#000"/>
<circle cx="623.57" cy="638.55" r="2.3" fill="#000"/>
<circle cx="623.68" cy="648.68" r="2.3" fill="#000"/>
<circle cx="621.82" cy="628.83" r="2.3" fill="#000"/>
<circle cx="627.92" cy="634.42" r="2.3" fill="#000"/>
<circle cx="616.52" cy="647.26" r="2.3" fill="#000"/>
<circle cx="619.74" cy="635.51" r="2.3" fill="#000"/>
<circle cx="629.00" cy="639.59" r="2.3" fill="#000"/>
<circle cx="616.53" cy="632.74" r="2.3" fill="#000"/>
<circle cx="621.50" cy="644.27" r="2.3" fill="#000"/>
<circle cx="613.80" cy="628.31" r="2.3" fill="#000"/>
<circle cx="618.80" cy="637.53" r="2.3" fill="#000"/>
<circle cx="630.82" cy="627.70" r="2.3" fill="#000"/>
<circle cx="639.39" cy="639.49" r="2.3" fill="#000"/>
<circle cx="633.81" cy="627.53" r="2.3" fill="#000"/>
<circle cx="630.85" cy="629.57" r="2.3" fill="#000"/>
<circle cx="634.25" cy="635.18" r="2.3" fill="#000"/>
<circle cx="641.44" cy="629.30" r="2.3" fill="#000"/>
<circle cx="635.77" cy="627.96" r="2.3" fill="#000"/>
<circle cx="631.38" cy="632.16" r="2.3" fill="#000"/>
<circle cx="641.89" cy="627.99" r="2.3" fill="#000"/>
<circle cx="632.12" cy="627.20" r="2.3" fill="#000"/>
<circle cx="634.59" cy="637.48" r="2.3" fill="#000"/>
<circle cx="634.21" cy="624.30" r="2.3" fill="#000"/>
<circle cx="639.85" cy="635.62" r="2.3" fill="#000"/>
<circle cx="636.13" cy="634.63" r="2.3" fill="#000"/>
<circle cx="632.00" cy="636.01" r="2.3" fill="#000"/>
<circle cx="637.21" cy="627.62" r="2.3" fill="#000"/>
<circle cx="630.06" cy="628.34" r="2.3" fill="#000"/>
<circle cx="642.00" cy="630.61" r="2.3" fill="#000"/>
<circle cx="639.43" cy="626.95" r="2.3" fill="#000"/>
<circle cx="637.08" cy="632.63" r="2.3" fill="#000"/>
<circle cx="634.53" cy="639.01" r="2.3" fill="#000"/>
<circle cx="632.78" cy="638.31" r="2.3" fill="#000"/>
<circle cx="637.91" cy="638.69" r="2.3" fill="#000"/>
<circle cx="641.10" cy="633.53" r="2.3" fill="#000"/>
<circle cx="637.15" cy="633.06" r="2.3" fill="#000"/>
<circle cx="640.40" cy="634.11" r="2.3" fill="#000"/>
<circle cx="630.78" cy="633.01" r="2.3" fill="#000"/>
<circle cx="637.82" cy="625.51" r="2.3" fill="#000"/>
<circle cx="638.07" cy="638.32" r="2.3" fill="#000"/>
<circle cx="631.70" cy="633.89" r="2.3" fill="#000"/>
<circle cx="633.47" cy="632.90" r="2.3" fill="#000"/>
<circle cx="638.66" cy="630.78" r="2.3" fill="#000"/>
<circle cx="639.33" cy="630.95" r="2.3" fill="#000"/>
<circle cx="638.81" cy="633.65" r="2.3" fill="#000"/>
<circle cx="633.06" cy="633.11" r="2.3" fill="#000"/>
<circle cx="637.90" cy="624.52" r="2.3" fill="#000"/>
<circle cx="639.95" cy="633.60" r="2.3" fill="#000"/>
<circle cx="637.13" cy="630.90" r="2.3" fill="#000"/>
<circle cx="632.95" cy="634.43" r="2.3" fill="#000"/>
<circle cx="633.19" cy="634.32" r="2.3" fill="#000"/>
<circle cx="683.32" cy="642.85" r="2.3" fill="#000"/>
<circle cx="663.85" cy="637.30" r="2.3" fill="#000"/>
<circle cx="658.50" cy="629.71" r="2.3" fill="#000"/>
<circle cx="657.45" cy="639.22" r="2.3" fill="#000"/>
<circle cx="644.13" cy="640.24" r="2.3" fill="#000"/>
<circle cx="660.15" cy="639.86" r="2.3" fill="#000"/>
<circle cx="684.68" cy="632.10" r="2.3" fill="#000"/>
<circle cx="681.09" cy="638.81" r="2.3" fill="#000"/>
<circle cx="674.42" cy="639.57" r="2.3" fill="#000"/>
<circle cx="688.31" cy="636.32" r="2.3" fill="#000"/>
<circle cx="672.08" cy="638.14" r="2.3" fill="#000"/>
<circle cx="683.82" cy="641.39" r="2.3" fill="#000"/>
<circle cx="663.83" cy="633.05" r="2.3" fill="#000"/>
<circle cx="649.69" cy="641.19" r="2.3" fill="#000"/>
<circle cx="675.27" cy="642.21" r="2.3" fill="#000"/>
<circle cx="663.57" cy="638.21" r="2.3" fill="#000"/>
<circle cx="643.70" cy="638.80" r="2.3" fill="#000"/>
<circle cx="651.79" cy="638.50" r="2.3" fill="#000"/>
<circle cx="653.04" cy="645.06" r="2.3" fill="#000"/>
<circle cx="674.23" cy="639.83" r="2.3" fill="#000"/>
<circle cx="659.40" cy="638.00" r="2.3" fill="#000"/>
<circle cx="686.90" cy="634.76" r="2.3" fill="#000"/>
<circle cx="672.61" cy="639.64" r="2.3" fill="#000"/>
<circle cx="649.09" cy="640.69" r="2.3" fill="#000"/>
<circle cx="648.78" cy="636.91" r="2.3" fill="#000"/>
<circle cx="678.57" cy="639.64" r="2.3" fill="#000"/>
<circle cx="653.33" cy="638.41" r="2.3" fill="#000"/>
<circle cx="656.90" cy="644.54" r="2.3" fill="#000"/>
<circle cx="644.15" cy="643.62" r="2.3" fill="#000"/>
<circle cx="679.71" cy="630.34" r="2.3" fill="#000"/>
<circle cx="657.96" cy="633.70" r="2.3" fill="#000"/>
<circle cx="677.35" cy="638.44" r="2.3" fill="#000"/>
<circle cx="657.46" cy="644.35" r="2.3" fill="#000"/>
<circle cx="646.11" cy="636.44" r="2.3" fill="#000"/>
<circle cx="683.00" cy="635.45" r="2.3" fill="#000"/>
<circle cx="653.48" cy="633.57" r="2.3" fill="#000"/>
<circle cx="675.62" cy="634.85" r="2.3" fill="#000"/>
<circle cx="651.85" cy="639.87" r="2.3" fill="#000"/>
<circle cx="677.87" cy="632.53" r="2.3" fill="#000"/>
<circle cx="663.34" cy="631.29" r="2.3" fill="#000"/>
<circle cx="676.17" cy="633.12" r="2.3" fill="#000"/>
<circle cx="649.15" cy="636.17" r="2.3" fill="#000"/>
<circle cx="669.40" cy="640.03" r="2.3" fill="#000"/>
<circle cx="660.80" cy="642.61" r="2.3" fill="#000"/>
<circle cx="654.23" cy="636.33" r="2.3" fill="#000"/>
<circle cx="681.95" cy="640.11" r="2.3" fill="#000"/>
<circle cx="650.62" cy="641.15" r="2.3" fill="#000"/>
<circle cx="684.53" cy="634.55" r="2.3" fill="#000"/>
<circle cx="685.49" cy="641.33" r="2.3" fill="#000"/>
<circle cx="659.33" cy="633.71" r="2.3" fill="#000"/>
<circle cx="679.30" cy="641.32" r="2.3" fill="#000"/>
<circle cx="666.62" cy="633.68" r="2.3" fill="#000"/>
<circle cx="680.70" cy="636.17" r="2.3" fill="#000"/>
<circle cx="680.72" cy="635.66" r="2.3" fill="#000"/>
<circle cx="651.72" cy="637.34" r="2.3" fill="#000"/>
<circle cx="659.09" cy="637.70" r="2.3" fill="#000"/>
<circle cx="670.33" cy="634.33" r="2.3" fill="#000"/>
<circle cx="647.09" cy="644.17" r="2.3" fill="#000"/>
<circle cx="670.57" cy="640.59" r="2.3" fill="#000"/>
<circle cx="653.28" cy="643.79" r="2.3" fill="#000"/>
<circle cx="652.61" cy="637.73" r="2.3" fill="#000"/>
<circle cx="685.29" cy="634.57" r="2.3" fill="#000"/>
<circle cx="646.05" cy="643.74" r="2.3" fill="#000"/>
<circle cx="678.45" cy="640.30" r="2.3" fill="#000"/>
<circle cx="650.48" cy="638.04" r="2.3" fill="#000"/>
<circle cx="677.90" cy="634.67" r="2.3" fill="#000"/>
<circle cx="650.54" cy="635.80" r="2.3" fill="#000"/>
<circle cx="676.16" cy="631.94" r="2.3" fill="#000"/>
<circle cx="655.27" cy="636.49" r="2.3" fill="#000"/>
<circle cx="665.14" cy="636.28" r="2.3" fill="#000"/>
<circle cx="649.50" cy="637.28" r="2.3" fill="#000"/>
<circle cx="651.60" cy="638.07" r="2.3" fill="#000"/>
<circle cx="651.87" cy="635.41" r="2.3" fill="#000"/>
<circle cx="650.73" cy="637.35" r="2.3" fill="#000"/>
<circle cx="648.40" cy="644.22" r="2.3" fill="#000"/>
<circle cx="659.57" cy="638.48" r="2.3" fill="#000"/>
<circle cx="679.09" cy="633.15" r="2.3" fill="#000"/>
<circle cx="652.01" cy="641.78" r="2.3" fill="#000"/>
<circle cx="667.18" cy="638.57" r="2.3" fill="#000"/>
<circle cx="659.85" cy="632.02" r="2.3" fill="#000"/>
<circle cx="656.87" cy="644.59" r="2.3" fill="#000"/>
<circle cx="662.40" cy="640.10" r="2.3" fill="#000"/>
<circle cx="661.03" cy="632.74" r="2.3" fill="#000"/>
<circle cx="688.89" cy="633.26" r="2.3" fill="#000"/>
<circle cx="643.52" cy="646.32" r="2.3" fill="#000"/>
<circle cx="671.12" cy="637.43" r="2.3" fill="#000"/>
<circle cx="682.34" cy="631.85" r="2.3" fill="#000"/>
<circle cx="680.69" cy="636.67" r="2.3" fill="#000"/>
<circle cx="687.80" cy="636.66" r="2.3" fill="#000"/>
<circle cx="652.19" cy="649.04" r="2.3" fill="#000"/>
<circle cx="686.71" cy="637.43" r="2.3" fill="#000"/>
<circle cx="658.52" cy="638.06" r="2.3" fill="#000"/>
<circle cx="650.45" cy="639.14" r="2.3" fill="#000"/>
<circle cx="659.08" cy="633.45" r="2.3" fill="#000"/>
<circle cx="672.42" cy="635.21" r="2.3" fill="#000"/>
<circle cx="681.78" cy="632.00" r="2.3" fill="#000"/>
<circle cx="658.73" cy="634.14" r="2.3" fill="#000"/>
<circle cx="688.72" cy="635.01" r="2.3" fill="#000"/>
<circle cx="658.88" cy="641.38" r="2.3" fill="#000"/>
<circle cx="684.69" cy="641.23" r="2.3" fill="#000"/>
<circle cx="681.05" cy="634.71" r="2.3" fill="#000"/>
<circle cx="643.03" cy="643.89" r="2.3" fill="#000"/>
<circle cx="656.96" cy="637.40" r="2.3" fill="#000"/>
<circle cx="654.62" cy="639.36" r="2.3" fill="#000"/>
<circle cx="657.95" cy="640.26" r="2.3" fill="#000"/>
<circle cx="682.41" cy="642.74" r="2.3" fill="#000"/>
<circle cx="687.46" cy="641.06" r="2.3" fill="#000"/>
<circle cx="646.43" cy="631.79" r="2.3" fill="#000"/>
<circle cx="648.71" cy="641.70" r="2.3" fill="#000"/>
<circle cx="662.56" cy="641.10" r="2.3" fill="#000"/>
<circle cx="655.67" cy="636.30" r="2.3" fill="#000"/>
<circle cx="674.14" cy="635.80" r="2.3" fill="#000"/>
<circle cx="667.03" cy="637.13" r="2.3" fill="#000"/>
<circle cx="648.68" cy="633.41" r="2.3" fill="#000"/>
<circle cx="677.14" cy="642.12" r="2.3" fill="#000"/>
<circle cx="644.15" cy="640.10" r="2.3" fill="#000"/>
<circle cx="682.22" cy="629.18" r="2.3" fill="#000"/>
<circle cx="687.53" cy="638.39" r="2.3" fill="#000"/>
<circle cx="670.36" cy="632.36" r="2.3" fill="#000"/>
<circle cx="660.46" cy="634.60" r="2.3" fill="#000"/>
<circle cx="686.09" cy="636.50" r="2.3" fill="#000"/>
<circle cx="685.16" cy="628.36" r="2.3" fill="#000"/>
<circle cx="687.67" cy="632.81" r="2.3" fill="#000"/>
<circle cx="650.22" cy="639.44" r="2.3" fill="#000"/>
<circle cx="674.62" cy="634.13" r="2.3" fill="#000"/>
<circle cx="646.38" cy="637.73" r="2.3" fill="#000"/>
<circle cx="687.35" cy="638.92" r="2.3" fill="#000"/>
<circle cx="653.28" cy="634.90" r="2.3" fill="#000"/>
<circle cx="675.17" cy="639.50" r="2.3" fill="#000"/>
<circle cx="642.37" cy="634.51" r="2.3" fill="#000"/>
<circle cx="652.71" cy="637.91" r="2.3" fill="#000"/>
<circle cx="668.23" cy="635.48" r="2.3" fill="#000"/>
<circle cx="665.15" cy="636.55" r="2.3" fill="#000"/>
<circle cx="643.75" cy="643.70" r="2.3" fill="#000"/>
<circle cx="648.44" cy="636.50" r="2.3" fill="#000"/>
<circle cx="681.67" cy="636.90" r="2.3" fill="#000"/>
<circle cx="673.05" cy="633.12" r="2.3" fill="#000"/>
<circle cx="648.01" cy="644.89" r="2.3" fill="#000"/>
<circle cx="686.99" cy="646.45" r="2.3" fill="#000"/>
<circle cx="675.66" cy="630.35" r="2.3" fill="#000"/>
<circle cx="646.71" cy="635.33" r="2.3" fill="#000"/>
<circle cx="671.81" cy="635.11" r="2.3" fill="#000"/>
<circle cx="680.47" cy="634.98" r="2.3" fill="#000"/>
<circle cx="654.38" cy="637.21" r="2.3" fill="#000"/>
<circle cx="673.37" cy="633.30" r="2.3" fill="#000"/>
<circle cx="655.13" cy="639.79" r="2.3" fill="#000"/>
<circle cx="682.21" cy="639.40" r="2.3" fill="#000"/>
<circle cx="671.96" cy="633.22" r="2.3" fill="#000"/>
<circle cx="654.64" cy="632.20" r="2.3" fill="#000"/>
<circle cx="662.33" cy="640.38" r="2.3" fill="#000"/>
<circle cx="657.08" cy="635.37" r="2.3" fill="#000"/>
<circle cx="665.67" cy="636.28" r="2.3" fill="#000"/>
<circle cx="682.41" cy="635.69" r="2.3" fill="#000"/>
<circle cx="685.43" cy="631.74" r="2.3" fill="#000"/>
<circle cx="656.61" cy="635.85" r="2.3" fill="#000"/>
<circle cx="651.08" cy="640.08" r="2.3" fill="#000"/>
<circle cx="677.92" cy="638.75" r="2.3" fill="#000"/>
<circle cx="686.42" cy="638.46" r="2.3" fill="#000"/>
<circle cx="648.32" cy="631.02" r="2.3" fill="#000"/>
<circle cx="648.85" cy="644.24" r="2.3" fill="#000"/>
<circle cx="648.58" cy="646.47" r="2.3" fill="#000"/>
<circle cx="683.09" cy="627.94" r="2.3" fill="#000"/>
<circle cx="676.18" cy="640.52" r="2.3" fill="#000"/>
<circle cx="664.79" cy="635.77" r="2.3" fill="#000"/>
<circle cx="659.78" cy="640.69" r="2.3" fill="#000"/>
<circle cx="643.07" cy="638.96" r="2.3" fill="#000"/>
<circle cx="656.46" cy="637.77" r="2.3" fill="#000"/>
<circle cx="674.60" cy="640.77" r="2.3" fill="#000"/>
<circle cx="675.56" cy="639.89" r="2.3" fill="#000"/>
<circle cx="658.13" cy="641.33" r="2.3" fill="#000"/>
<circle cx="681.35" cy="640.56" r="2.3" fill="#000"/>
<circle cx="674.73" cy="639.39" r="2.3" fill="#000"/>
<circle cx="657.26" cy="633.77" r="2.3" fill="#000"/>
<circle cx="677.06" cy="639.67" r="2.3" fill="#000"/>
<circle cx="649.17" cy="640.56" r="2.3" fill="#000"/>
<circle cx="648.58" cy="638.34" r="2.3" fill="#000"/>
<circle cx="675.09" cy="641.31" r="2.3" fill="#000"/>
<circle cx="652.96" cy="631.07" r="2.3" fill="#000"/>
<circle cx="655.25" cy="638.79" r="2.3" fill="#000"/>
<circle cx="644.83" cy="637.38" r="2.3" fill="#000"/>
<circle cx="670.66" cy="641.42" r="2.3" fill="#000"/>
<circle cx="644.11" cy="640.16" r="2.3" fill="#000"/>
<circle cx="672.26" cy="639.22" r="2.3" fill="#000"/>
<circle cx="688.82" cy="633.44" r="2.3" fill="#000"/>
<circle cx="667.13" cy="635.97" r="2.3" fill="#000"/>
<circle cx="663.65" cy="629.78" r="2.3" fill="#000"/>
<circle cx="679.27" cy="642.76" r="2.3" fill="#000"/>
<circle cx="685.24" cy="635.78" r="2.3" fill="#000"/>
<circle cx="653.02" cy="641.30" r="2.3" fill="#000"/>
<circle cx="678.97" cy="636.67" r="2.3" fill="#000"/>
<circle cx="645.60" cy="637.04" r="2.3" fill="#000"/>
<circle cx="669.94" cy="637.60" r="2.3" fill="#000"/>
<circle cx="674.86" cy="639.36" r="2.3" fill="#000"/>
<circle cx="648.71" cy="638.27" r="2.3" fill="#000"/>
<circle cx="644.35" cy="629.83" r="2.3" fill="#000"/>
<circle cx="685.54" cy="639.67" r="2.3" fill="#000"/>
<circle cx="646.90" cy="634.81" r="2.3" fill="#000"/>
<circle cx="661.12" cy="640.27" r="2.3" fill="#000"/>
<circle cx="671.78" cy="637.71" r="2.3" fill="#000"/>
<circle cx="643.91" cy="644.70" r="2.3" fill="#000"/>
<circle cx="443.30" cy="595.20" r="2.3" fill="#000"/>
<circle cx="440.00" cy="601.40" r="2.3" fill="#000"/>
<circle cx="436.10" cy="603.20" r="2.3" fill="#000"/>
<circle cx="445.40" cy="600.00" r="2.3" fill="#000"/>
<circle cx="440.40" cy="610.40" r="2.3" fill="#000"/>
<circle cx="459.40" cy="595.00" r="2.3" fill="#000"/>
<circle cx="464.00" cy="592.80" r="2.3" fill="#000"/>
<circle cx="470.80" cy="590.70" r="2.3" fill="#000"/>
<circle cx="477.60" cy="591.40" r="2.3" fill="#000"/>
<circle cx="476.90" cy="597.10" r="2.3" fill="#000"/>
<circle cx="457.60" cy="601.00" r="2.3" fill="#000"/>
<circle cx="471.20" cy="606.40" r="2.3" fill="#000"/>
<circle cx="467.60" cy="611.10" r="2.3" fill="#000"/>
<circle cx="470.50" cy="616.80" r="2.3" fill="#000"/>
<circle cx="464.70" cy="619.30" r="2.3" fill="#000"/>
<circle cx="449.30" cy="613.20" r="2.3" fill="#000"/>
<circle cx="452.20" cy="615.40" r="2.3" fill="#000"/>
<circle cx="447.60" cy="617.50" r="2.3" fill="#000"/>
<circle cx="453.60" cy="619.00" r="2.3" fill="#000"/>
<circle cx="447.20" cy="619.70" r="2.3" fill="#000"/>
<circle cx="443.30" cy="621.80" r="2.3" fill="#000"/>
<circle cx="450.80" cy="622.90" r="2.3" fill="#000"/>
<circle cx="435.70" cy="623.60" r="2.3" fill="#000"/>
<circle cx="477.30" cy="604.60" r="2.3" fill="#000"/>
<circle cx="476.60" cy="607.50" r="2.3" fill="#000"/>
<circle cx="478.70" cy="615.40" r="2.3" fill="#000"/>
<circle cx="484.40" cy="591.20" r="2.3" fill="#000"/>
<circle cx="493.00" cy="598.20" r="2.3" fill="#000"/>
<circle cx="480.90" cy="608.20" r="2.3" fill="#000"/>
<circle cx="484.80" cy="607.50" r="2.3" fill="#000"/>
<circle cx="492.70" cy="610.40" r="2.3" fill="#000"/>
<circle cx="494.80" cy="613.20" r="2.3" fill="#000"/>
<circle cx="489.10" cy="613.20" r="2.3" fill="#000"/>
<circle cx="480.10" cy="614.30" r="2.3" fill="#000"/>
<circle cx="484.40" cy="614.70" r="2.3" fill="#000"/>
<circle cx="481.60" cy="619.70" r="2.3" fill="#000"/>
<circle cx="486.60" cy="619.70" r="2.3" fill="#000"/>
<circle cx="483.70" cy="621.80" r="2.3" fill="#000"/>
<circle cx="494.50" cy="619.00" r="2.3" fill="#000"/>
<circle cx="494.50" cy="621.80" r="2.3" fill="#000"/>
<circle cx="516.70" cy="590.30" r="2.3" fill="#000"/>
<circle cx="515.20" cy="593.20" r="2.3" fill="#000"/>
<circle cx="516.70" cy="595.30" r="2.3" fill="#000"/>
<circle cx="512.70" cy="600.00" r="2.3" fill="#000"/>
<circle cx="516.30" cy="602.10" r="2.3" fill="#000"/>
<circle cx="511.30" cy="603.90" r="2.3" fill="#000"/>
<circle cx="523.50" cy="608.90" r="2.3" fill="#000"/>
<circle cx="522.80" cy="611.80" r="2.3" fill="#000"/>
<circle cx="518.50" cy="615.40" r="2.3" fill="#000"/>
<circle cx="518.80" cy="619.00" r="2.3" fill="#000"/>
<circle cx="523.10" cy="621.10" r="2.3" fill="#000"/>
<circle cx="547.50" cy="589.20" r="2.3" fill="#000"/>
<circle cx="549.60" cy="591.40" r="2.3" fill="#000"/>
<circle cx="547.80" cy="597.50" r="2.3" fill="#000"/>
<circle cx="571.80" cy="590.70" r="2.3" fill="#000"/>
<circle cx="562.20" cy="597.10" r="2.3" fill="#000"/>
<circle cx="562.50" cy="598.90" r="2.3" fill="#000"/>
<circle cx="564.70" cy="601.40" r="2.3" fill="#000"/>
<circle cx="570.80" cy="596.70" r="2.3" fill="#000"/>
<circle cx="569.30" cy="601.00" r="2.3" fill="#000"/>
<circle cx="571.80" cy="603.20" r="2.3" fill="#000"/>
<circle cx="555.00" cy="602.10" r="2.3" fill="#000"/>
<circle cx="556.10" cy="606.40" r="2.3" fill="#000"/>
<circle cx="558.20" cy="608.20" r="2.3" fill="#000"/>
<circle cx="548.90" cy="608.90" r="2.3" fill="#000"/>
<circle cx="541.40" cy="609.60" r="2.3" fill="#000"/>
<circle cx="543.90" cy="612.50" r="2.3" fill="#000"/>
<circle cx="542.10" cy="615.40" r="2.3" fill="#000"/>
<circle cx="561.80" cy="608.90" r="2.3" fill="#000"/>
<circle cx="569.00" cy="609.60" r="2.3" fill="#000"/>
<circle cx="531.70" cy="624.00" r="2.3" fill="#000"/>
<circle cx="604.10" cy="592.80" r="2.3" fill="#000"/>
<circle cx="595.50" cy="598.20" r="2.3" fill="#000"/>
<circle cx="599.40" cy="600.70" r="2.3" fill="#000"/>
<circle cx="603.40" cy="600.70" r="2.3" fill="#000"/>
<circle cx="606.20" cy="598.90" r="2.3" fill="#000"/>
<circle cx="577.60" cy="603.20" r="2.3" fill="#000"/>
<circle cx="577.60" cy="605.30" r="2.3" fill="#000"/>
<circle cx="583.30" cy="606.80" r="2.3" fill="#000"/>
<circle cx="581.20" cy="609.60" r="2.3" fill="#000"/>
<circle cx="580.10" cy="612.50" r="2.3" fill="#000"/>
<circle cx="596.20" cy="608.90" r="2.3" fill="#000"/>
<circle cx="600.50" cy="606.10" r="2.3" fill="#000"/>
<circle cx="606.20" cy="606.80" r="2.3" fill="#000"/>
<circle cx="602.70" cy="607.50" r="2.3" fill="#000"/>
<circle cx="609.10" cy="609.60" r="2.3" fill="#000"/>
<circle cx="609.80" cy="612.90" r="2.3" fill="#000"/>
<circle cx="613.00" cy="612.50" r="2.3" fill="#000"/>
<circle cx="595.10" cy="614.70" r="2.3" fill="#000"/>
<circle cx="584.70" cy="611.80" r="2.3" fill="#000"/>
<circle cx="588.30" cy="614.70" r="2.3" fill="#000"/>
<circle cx="609.10" cy="622.50" r="2.3" fill="#000"/>
<circle cx="623.40" cy="609.60" r="2.3" fill="#000"/>
<circle cx="628.40" cy="606.10" r="2.3" fill="#000"/>
<circle cx="624.90" cy="609.30" r="2.3" fill="#000"/>
<circle cx="632.40" cy="608.90" r="2.3" fill="#000"/>
<circle cx="627.40" cy="615.00" r="2.3" fill="#000"/>
<circle cx="627.00" cy="619.30" r="2.3" fill="#000"/>
<circle cx="636.30" cy="613.20" r="2.3" fill="#000"/>
<circle cx="639.90" cy="611.80" r="2.3" fill="#000"/>
<circle cx="640.60" cy="610.70" r="2.3" fill="#000"/>
<circle cx="633.50" cy="617.50" r="2.3" fill="#000"/>
<circle cx="637.00" cy="619.00" r="2.3" fill="#000"/>
<circle cx="640.30" cy="617.90" r="2.3" fill="#000"/>
<circle cx="648.50" cy="617.90" r="2.3" fill="#000"/>
<circle cx="657.80" cy="607.80" r="2.3" fill="#000"/>
<circle cx="667.50" cy="611.80" r="2.3" fill="#000"/>
<circle cx="663.50" cy="615.00" r="2.3" fill="#000"/>
<circle cx="662.10" cy="616.10" r="2.3" fill="#000"/>
<circle cx="663.50" cy="620.00" r="2.3" fill="#000"/>
<circle cx="660.70" cy="621.80" r="2.3" fill="#000"/>
<circle cx="657.80" cy="624.00" r="2.3" fill="#000"/>
<circle cx="671.40" cy="613.20" r="2.3" fill="#000"/>
<circle cx="671.40" cy="620.40" r="2.3" fill="#000"/>
<circle cx="680.20" cy="605.70" r="2.3" fill="#000"/>
<circle cx="687.40" cy="610.00" r="2.3" fill="#000"/>
<circle cx="673.10" cy="612.90" r="2.3" fill="#000"/>
<circle cx="672.70" cy="616.10" r="2.3" fill="#000"/>
<circle cx="672.40" cy="621.50" r="2.3" fill="#000"/>
<circle cx="677.00" cy="620.70" r="2.3" fill="#000"/>
<circle cx="447.20" cy="644.30" r="2.3" fill="#000"/>
<circle cx="462.60" cy="649.00" r="2.3" fill="#000"/>
<circle cx="465.10" cy="648.60" r="2.3" fill="#000"/>
<circle cx="465.10" cy="653.30" r="2.3" fill="#000"/>
<circle cx="468.30" cy="656.80" r="2.3" fill="#000"/>
<circle cx="471.90" cy="658.60" r="2.3" fill="#000"/>
<circle cx="467.60" cy="659.30" r="2.3" fill="#000"/>
<circle cx="465.80" cy="664.40" r="2.3" fill="#000"/>
<circle cx="470.10" cy="664.00" r="2.3" fill="#000"/>
<circle cx="473.00" cy="664.40" r="2.3" fill="#000"/>
<circle cx="474.80" cy="663.30" r="2.3" fill="#000"/>
<circle cx="476.60" cy="644.30" r="2.3" fill="#000"/>
<circle cx="478.70" cy="646.40" r="2.3" fill="#000"/>
<circle cx="475.80" cy="650.00" r="2.3" fill="#000"/>
<circle cx="477.30" cy="651.50" r="2.3" fill="#000"/>
<circle cx="475.10" cy="652.90" r="2.3" fill="#000"/>
<circle cx="482.30" cy="658.30" r="2.3" fill="#000"/>
<circle cx="490.90" cy="662.90" r="2.3" fill="#000"/>
<circle cx="485.90" cy="666.50" r="2.3" fill="#000"/>
<circle cx="490.90" cy="674.40" r="2.3" fill="#000"/>
<circle cx="488.70" cy="677.20" r="2.3" fill="#000"/>
<circle cx="492.70" cy="676.50" r="2.3" fill="#000"/>
<circle cx="504.90" cy="644.00" r="2.3" fill="#000"/>
<circle cx="510.60" cy="651.10" r="2.3" fill="#000"/>
<circle cx="544.30" cy="644.70" r="2.3" fill="#000"/>
<circle cx="551.40" cy="649.70" r="2.3" fill="#000"/>
<circle cx="545.30" cy="653.60" r="2.3" fill="#000"/>
<circle cx="546.40" cy="657.20" r="2.3" fill="#000"/>
<circle cx="545.00" cy="661.80" r="2.3" fill="#000"/>
<circle cx="554.70" cy="644.30" r="2.3" fill="#000"/>
<circle cx="560.40" cy="645.40" r="2.3" fill="#000"/>
<circle cx="563.20" cy="645.70" r="2.3" fill="#000"/>
<circle cx="565.80" cy="650.40" r="2.3" fill="#000"/>
<circle cx="569.00" cy="649.70" r="2.3" fill="#000"/>
<circle cx="564.70" cy="656.50" r="2.3" fill="#000"/>
<circle cx="563.60" cy="661.50" r="2.3" fill="#000"/>
<circle cx="564.30" cy="662.60" r="2.3" fill="#000"/>
<circle cx="556.40" cy="667.20" r="2.3" fill="#000"/>
<circle cx="573.60" cy="647.50" r="2.3" fill="#000"/>
<circle cx="572.60" cy="653.30" r="2.3" fill="#000"/>
<circle cx="573.30" cy="657.20" r="2.3" fill="#000"/>
<circle cx="571.10" cy="658.60" r="2.3" fill="#000"/>
<circle cx="578.30" cy="642.90" r="2.3" fill="#000"/>
<circle cx="579.70" cy="640.70" r="2.3" fill="#000"/>
<circle cx="575.40" cy="640.70" r="2.3" fill="#000"/>
<circle cx="588.30" cy="642.90" r="2.3" fill="#000"/>
<circle cx="590.50" cy="640.70" r="2.3" fill="#000"/>
<circle cx="599.00" cy="641.10" r="2.3" fill="#000"/>
<circle cx="584.00" cy="649.00" r="2.3" fill="#000"/>
<circle cx="589.00" cy="649.70" r="2.3" fill="#000"/>
<circle cx="595.10" cy="645.40" r="2.3" fill="#000"/>
<circle cx="598.40" cy="646.80" r="2.3" fill="#000"/>
<circle cx="593.70" cy="648.60" r="2.3" fill="#000"/>
<circle cx="574.70" cy="647.90" r="2.3" fill="#000"/>
<circle cx="576.90" cy="655.80" r="2.3" fill="#000"/>
<circle cx="595.50" cy="654.00" r="2.3" fill="#000"/>
<circle cx="593.30" cy="657.90" r="2.3" fill="#000"/>
<circle cx="594.80" cy="657.90" r="2.3" fill="#000"/>
<circle cx="593.30" cy="663.30" r="2.3" fill="#000"/>
<circle cx="594.40" cy="662.60" r="2.3" fill="#000"/>
<circle cx="598.70" cy="666.10" r="2.3" fill="#000"/>
<circle cx="580.10" cy="668.30" r="2.3" fill="#000"/>
<circle cx="584.40" cy="679.40" r="2.3" fill="#000"/>
<circle cx="593.30" cy="679.40" r="2.3" fill="#000"/>
<circle cx="621.30" cy="654.00" r="2.3" fill="#000"/>
<circle cx="625.20" cy="644.70" r="2.3" fill="#000"/>
<circle cx="630.60" cy="645.40" r="2.3" fill="#000"/>
<circle cx="628.80" cy="649.00" r="2.3" fill="#000"/>
<circle cx="622.70" cy="654.00" r="2.3" fill="#000"/>
<circle cx="637.00" cy="642.50" r="2.3" fill="#000"/>
<circle cx="642.80" cy="654.30" r="2.3" fill="#000"/>
<circle cx="648.10" cy="655.40" r="2.3" fill="#000"/>
<circle cx="646.00" cy="660.10" r="2.3" fill="#000"/>
<circle cx="641.00" cy="666.90" r="2.3" fill="#000"/>
<circle cx="668.20" cy="645.70" r="2.3" fill="#000"/>
<circle cx="671.40" cy="649.30" r="2.3" fill="#000"/>
<circle cx="664.30" cy="657.20" r="2.3" fill="#000"/>
<circle cx="667.80" cy="656.80" r="2.3" fill="#000"/>
<circle cx="664.60" cy="661.80" r="2.3" fill="#000"/>
<circle cx="668.00" cy="645.30" r="2.3" fill="#000"/>
<circle cx="673.40" cy="643.90" r="2.3" fill="#000"/>
<circle cx="672.40" cy="648.90" r="2.3" fill="#000"/>
<circle cx="674.90" cy="651.80" r="2.3" fill="#000"/>
<circle cx="684.50" cy="642.40" r="2.3" fill="#000"/>
<circle cx="686.70" cy="646.00" r="2.3" fill="#000"/>
<circle cx="686.30" cy="655.70" r="2.3" fill="#000"/>
<circle cx="648.70" cy="655.30" r="2.3" fill="#000"/>
<circle cx="544.60" cy="692.80" r="2.3" fill="#000"/>
<circle cx="579.00" cy="685.30" r="2.3" fill="#000"/>
<circle cx="584.40" cy="680.20" r="2.3" fill="#000"/>
<circle cx="570.00" cy="698.20" r="2.3" fill="#000"/>
<circle cx="593.00" cy="680.20" r="2.3" fill="#000"/>
<circle cx="592.30" cy="684.20" r="2.3" fill="#000"/>
<circle cx="605.90" cy="702.10" r="2.3" fill="#000"/>
<circle cx="466.5" cy="474.6" r="2.2" fill="#1f9f70"/>
<circle cx="465.8" cy="482.2" r="2.2" fill="#1f9f70"/>
<circle cx="473.4" cy="487" r="2.2" fill="#1f9f70"/>
<circle cx="493.5" cy="498.7" r="2.2" fill="#1f9f70"/>
<circle cx="494" cy="509" r="2.2" fill="#1f9f70"/>
<circle cx="451.2" cy="513.3" r="2.2" fill="#1f9f70"/>
<circle cx="475.6" cy="510.9" r="2.2" fill="#1f9f70"/>
<circle cx="475.8" cy="524.5" r="2.2" fill="#1f9f70"/>
<circle cx="464.4" cy="530" r="2.2" fill="#1f9f70"/>
<circle cx="438.3" cy="535.5" r="2.2" fill="#1f9f70"/>
<circle cx="493.3" cy="536" r="2.2" fill="#1f9f70"/>
<circle cx="466.1" cy="544.3" r="2.2" fill="#1f9f70"/>
<circle cx="477.7" cy="546.8" r="2.2" fill="#1f9f70"/>
<circle cx="469" cy="554.9" r="2.2" fill="#1f9f70"/>
<circle cx="438.9" cy="563.4" r="2.2" fill="#1f9f70"/>
<circle cx="483.7" cy="562.5" r="2.2" fill="#1f9f70"/>
<circle cx="454.4" cy="574.4" r="2.2" fill="#1f9f70"/>
<circle cx="456.2" cy="573.7" r="2.2" fill="#1f9f70"/>
<circle cx="477.3" cy="573.8" r="2.2" fill="#1f9f70"/>
<circle cx="490.5" cy="574" r="2.2" fill="#1f9f70"/>
<circle cx="494.2" cy="576.8" r="2.2" fill="#1f9f70"/>
<circle cx="483" cy="578.7" r="2.2" fill="#1f9f70"/>
<circle cx="486.6" cy="579.8" r="2.2" fill="#1f9f70"/>
<circle cx="433.6" cy="577.2" r="2.2" fill="#1f9f70"/>
<circle cx="480.9" cy="583" r="2.2" fill="#1f9f70"/>
<circle cx="495.2" cy="583.7" r="2.2" fill="#1f9f70"/>
<circle cx="523.8" cy="582.6" r="2.2" fill="#1f9f70"/>
<circle cx="546.8" cy="544.4" r="2.2" fill="#1f9f70"/>
<circle cx="545.5" cy="563" r="2.2" fill="#1f9f70"/>
<circle cx="546.8" cy="564.3" r="2.2" fill="#1f9f70"/>
<circle cx="571.8" cy="512.5" r="2.2" fill="#1f9f70"/>
<circle cx="572.8" cy="566.6" r="2.2" fill="#1f9f70"/>
<circle cx="570.5" cy="578.8" r="2.2" fill="#1f9f70"/>
<circle cx="600.8" cy="566.6" r="2.2" fill="#1f9f70"/>
<circle cx="604.7" cy="561.5" r="2.2" fill="#1f9f70"/>
<circle cx="619.5" cy="549.5" r="2.2" fill="#1f9f70"/>
<circle cx="622" cy="587" r="2.2" fill="#1f9f70"/>
<circle cx="662.3" cy="547.7" r="2.2" fill="#1f9f70"/>
<circle cx="686.3" cy="581.9" r="2.2" fill="#1f9f70"/>
<line x1="432.8" y1="585.8" x2="691.4" y2="585.8" stroke="#22ae7a" stroke-width="2.7" stroke-dasharray="15.3 0.7" stroke-dashoffset="5.2"/>
</svg></body></html>
